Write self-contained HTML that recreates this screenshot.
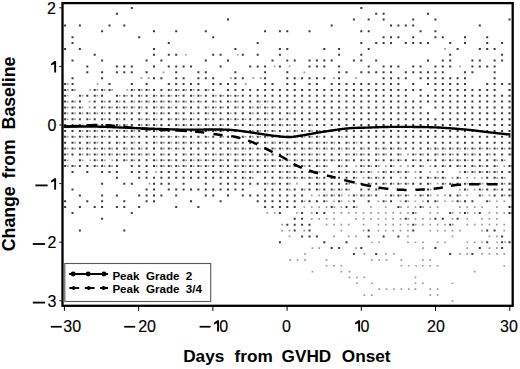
<!DOCTYPE html>
<html><head><meta charset="utf-8"><style>
html,body{margin:0;padding:0;background:#fff;width:520px;height:369px;overflow:hidden}
svg{display:block}
text{font-family:"Liberation Sans",sans-serif;fill:#000}
.t{font-size:16px;stroke:#000;stroke-width:0.15px}
.b{font-weight:bold;font-size:17.2px}
.by{font-weight:bold;font-size:17.7px}
.l{font-weight:bold;font-size:11.6px}
</style></head><body>
<svg width="520" height="369" viewBox="0 0 520 369">

<clipPath id="pc"><rect x="63.5" y="4" width="448.5" height="300.7"/></clipPath>
<path d="M88.7 100.8h1.7v1.7h-1.7zM88.7 106.6h1.7v1.7h-1.7zM89.4 89.1h1.7v1.7h-1.7zM89.4 159.4h1.7v1.7h-1.7zM96.8 83.2h1.7v1.7h-1.7zM111.6 159.4h1.7v1.7h-1.7zM126.5 89.1h1.7v1.7h-1.7zM140.5 77.3h1.7v1.7h-1.7zM147.9 77.3h1.7v1.7h-1.7zM148.7 182.8h1.7v1.7h-1.7zM155.3 171.1h1.7v1.7h-1.7zM162.7 71.5h1.7v1.7h-1.7zM185.0 53.9h1.7v1.7h-1.7zM230.1 77.3h1.7v1.7h-1.7zM236.8 53.9h1.7v1.7h-1.7zM245.0 83.2h1.7v1.7h-1.7zM252.4 77.3h1.7v1.7h-1.7zM259.8 77.3h1.7v1.7h-1.7zM266.4 212.1h1.7v1.7h-1.7zM273.8 65.6h1.7v1.7h-1.7zM273.8 212.1h1.7v1.7h-1.7zM281.2 223.8h1.7v1.7h-1.7zM281.2 229.7h1.7v1.7h-1.7zM288.7 65.6h1.7v1.7h-1.7zM288.7 229.7h1.7v1.7h-1.7zM288.7 235.6h1.7v1.7h-1.7zM289.4 259.0h1.7v1.7h-1.7zM296.1 182.8h1.7v1.7h-1.7zM296.1 212.1h1.7v1.7h-1.7zM296.8 259.0h1.7v1.7h-1.7zM303.5 71.5h1.7v1.7h-1.7zM303.5 206.3h1.7v1.7h-1.7zM303.5 229.7h1.7v1.7h-1.7zM304.2 253.1h1.7v1.7h-1.7zM304.2 259.0h1.7v1.7h-1.7zM310.9 194.5h1.7v1.7h-1.7zM310.9 206.3h1.7v1.7h-1.7zM310.9 212.1h1.7v1.7h-1.7zM310.9 218.0h1.7v1.7h-1.7zM311.6 247.3h1.7v1.7h-1.7zM311.6 270.7h1.7v1.7h-1.7zM318.3 194.5h1.7v1.7h-1.7zM318.3 206.3h1.7v1.7h-1.7zM318.3 218.0h1.7v1.7h-1.7zM318.3 247.3h1.7v1.7h-1.7zM325.7 206.3h1.7v1.7h-1.7zM325.7 218.0h1.7v1.7h-1.7zM325.7 223.8h1.7v1.7h-1.7zM325.7 259.0h1.7v1.7h-1.7zM325.7 264.9h1.7v1.7h-1.7zM333.1 77.3h1.7v1.7h-1.7zM333.1 200.4h1.7v1.7h-1.7zM333.1 212.1h1.7v1.7h-1.7zM333.1 218.0h1.7v1.7h-1.7zM333.1 223.8h1.7v1.7h-1.7zM333.1 235.6h1.7v1.7h-1.7zM333.1 264.9h1.7v1.7h-1.7zM340.5 206.3h1.7v1.7h-1.7zM340.5 212.1h1.7v1.7h-1.7zM340.5 223.8h1.7v1.7h-1.7zM340.5 229.7h1.7v1.7h-1.7zM340.5 264.9h1.7v1.7h-1.7zM340.5 270.7h1.7v1.7h-1.7zM347.9 194.5h1.7v1.7h-1.7zM347.9 200.4h1.7v1.7h-1.7zM347.9 212.1h1.7v1.7h-1.7zM347.9 223.8h1.7v1.7h-1.7zM347.9 235.6h1.7v1.7h-1.7zM348.6 270.7h1.7v1.7h-1.7zM348.6 276.6h1.7v1.7h-1.7zM355.3 77.3h1.7v1.7h-1.7zM355.3 165.2h1.7v1.7h-1.7zM355.3 182.8h1.7v1.7h-1.7zM355.3 212.1h1.7v1.7h-1.7zM355.3 218.0h1.7v1.7h-1.7zM355.3 235.6h1.7v1.7h-1.7zM355.3 247.3h1.7v1.7h-1.7zM356.0 276.6h1.7v1.7h-1.7zM356.0 282.4h1.7v1.7h-1.7zM362.7 177.0h1.7v1.7h-1.7zM362.7 212.1h1.7v1.7h-1.7zM362.7 218.0h1.7v1.7h-1.7zM362.7 223.8h1.7v1.7h-1.7zM362.7 229.7h1.7v1.7h-1.7zM363.5 253.1h1.7v1.7h-1.7zM363.5 276.6h1.7v1.7h-1.7zM363.5 294.2h1.7v1.7h-1.7zM370.1 206.3h1.7v1.7h-1.7zM370.1 212.1h1.7v1.7h-1.7zM370.1 218.0h1.7v1.7h-1.7zM370.9 241.4h1.7v1.7h-1.7zM370.9 259.0h1.7v1.7h-1.7zM370.9 282.4h1.7v1.7h-1.7zM370.9 294.2h1.7v1.7h-1.7zM377.5 171.1h1.7v1.7h-1.7zM377.5 200.4h1.7v1.7h-1.7zM377.5 212.1h1.7v1.7h-1.7zM377.5 218.0h1.7v1.7h-1.7zM377.5 223.8h1.7v1.7h-1.7zM377.5 229.7h1.7v1.7h-1.7zM378.3 241.4h1.7v1.7h-1.7zM378.3 259.0h1.7v1.7h-1.7zM378.3 288.3h1.7v1.7h-1.7zM384.9 165.2h1.7v1.7h-1.7zM384.9 194.5h1.7v1.7h-1.7zM384.9 206.3h1.7v1.7h-1.7zM384.9 212.1h1.7v1.7h-1.7zM384.9 218.0h1.7v1.7h-1.7zM384.9 223.8h1.7v1.7h-1.7zM384.9 229.7h1.7v1.7h-1.7zM384.9 253.1h1.7v1.7h-1.7zM385.7 259.0h1.7v1.7h-1.7zM385.7 288.3h1.7v1.7h-1.7zM392.3 212.1h1.7v1.7h-1.7zM392.3 218.0h1.7v1.7h-1.7zM392.3 223.8h1.7v1.7h-1.7zM392.3 229.7h1.7v1.7h-1.7zM393.1 253.1h1.7v1.7h-1.7zM393.1 288.3h1.7v1.7h-1.7zM399.7 165.2h1.7v1.7h-1.7zM399.7 177.0h1.7v1.7h-1.7zM399.7 200.4h1.7v1.7h-1.7zM399.7 212.1h1.7v1.7h-1.7zM399.7 218.0h1.7v1.7h-1.7zM399.7 223.8h1.7v1.7h-1.7zM399.7 229.7h1.7v1.7h-1.7zM400.5 259.0h1.7v1.7h-1.7zM400.5 264.9h1.7v1.7h-1.7zM400.5 288.3h1.7v1.7h-1.7zM407.1 153.5h1.7v1.7h-1.7zM407.1 165.2h1.7v1.7h-1.7zM407.1 206.3h1.7v1.7h-1.7zM407.1 212.1h1.7v1.7h-1.7zM407.1 223.8h1.7v1.7h-1.7zM407.1 229.7h1.7v1.7h-1.7zM407.1 235.6h1.7v1.7h-1.7zM407.1 241.4h1.7v1.7h-1.7zM407.1 241.4h1.7v1.7h-1.7zM407.9 264.9h1.7v1.7h-1.7zM407.9 288.3h1.7v1.7h-1.7zM414.6 171.1h1.7v1.7h-1.7zM414.6 177.0h1.7v1.7h-1.7zM414.6 194.5h1.7v1.7h-1.7zM414.6 200.4h1.7v1.7h-1.7zM414.6 206.3h1.7v1.7h-1.7zM414.6 218.0h1.7v1.7h-1.7zM414.6 241.4h1.7v1.7h-1.7zM414.6 241.4h1.7v1.7h-1.7zM414.6 276.6h1.7v1.7h-1.7zM414.6 282.4h1.7v1.7h-1.7zM414.6 288.3h1.7v1.7h-1.7zM415.3 264.9h1.7v1.7h-1.7zM422.0 200.4h1.7v1.7h-1.7zM422.0 218.0h1.7v1.7h-1.7zM422.0 223.8h1.7v1.7h-1.7zM422.0 241.4h1.7v1.7h-1.7zM422.0 241.4h1.7v1.7h-1.7zM422.0 247.3h1.7v1.7h-1.7zM422.0 259.0h1.7v1.7h-1.7zM422.0 264.9h1.7v1.7h-1.7zM422.0 282.4h1.7v1.7h-1.7zM429.4 165.2h1.7v1.7h-1.7zM429.4 171.1h1.7v1.7h-1.7zM429.4 206.3h1.7v1.7h-1.7zM429.4 212.1h1.7v1.7h-1.7zM429.4 218.0h1.7v1.7h-1.7zM429.4 223.8h1.7v1.7h-1.7zM429.4 229.7h1.7v1.7h-1.7zM429.4 259.0h1.7v1.7h-1.7zM429.4 264.9h1.7v1.7h-1.7zM429.4 288.3h1.7v1.7h-1.7zM429.4 294.2h1.7v1.7h-1.7zM436.8 171.1h1.7v1.7h-1.7zM436.8 182.8h1.7v1.7h-1.7zM436.8 194.5h1.7v1.7h-1.7zM436.8 206.3h1.7v1.7h-1.7zM436.8 212.1h1.7v1.7h-1.7zM436.8 223.8h1.7v1.7h-1.7zM436.8 229.7h1.7v1.7h-1.7zM436.8 241.4h1.7v1.7h-1.7zM436.8 241.4h1.7v1.7h-1.7zM436.8 264.9h1.7v1.7h-1.7zM436.8 288.3h1.7v1.7h-1.7zM436.8 294.2h1.7v1.7h-1.7zM444.2 48.0h1.7v1.7h-1.7zM444.2 194.5h1.7v1.7h-1.7zM444.2 200.4h1.7v1.7h-1.7zM444.2 223.8h1.7v1.7h-1.7zM444.2 229.7h1.7v1.7h-1.7zM444.2 241.4h1.7v1.7h-1.7zM444.2 241.4h1.7v1.7h-1.7zM451.6 177.0h1.7v1.7h-1.7zM451.6 200.4h1.7v1.7h-1.7zM451.6 218.0h1.7v1.7h-1.7zM451.6 229.7h1.7v1.7h-1.7zM451.6 235.6h1.7v1.7h-1.7zM451.6 282.4h1.7v1.7h-1.7zM451.6 300.0h1.7v1.7h-1.7zM459.0 65.6h1.7v1.7h-1.7zM459.0 171.1h1.7v1.7h-1.7zM459.0 188.7h1.7v1.7h-1.7zM459.0 206.3h1.7v1.7h-1.7zM459.0 212.1h1.7v1.7h-1.7zM459.0 229.7h1.7v1.7h-1.7zM459.0 253.1h1.7v1.7h-1.7zM466.4 177.0h1.7v1.7h-1.7zM466.4 194.5h1.7v1.7h-1.7zM466.4 206.3h1.7v1.7h-1.7zM466.4 218.0h1.7v1.7h-1.7zM466.4 223.8h1.7v1.7h-1.7zM466.4 241.4h1.7v1.7h-1.7zM466.4 241.4h1.7v1.7h-1.7zM466.4 247.3h1.7v1.7h-1.7zM466.4 253.1h1.7v1.7h-1.7zM473.8 177.0h1.7v1.7h-1.7zM473.8 188.7h1.7v1.7h-1.7zM473.8 206.3h1.7v1.7h-1.7zM473.8 212.1h1.7v1.7h-1.7zM473.8 223.8h1.7v1.7h-1.7zM473.8 241.4h1.7v1.7h-1.7zM473.8 241.4h1.7v1.7h-1.7zM473.8 270.7h1.7v1.7h-1.7zM481.2 177.0h1.7v1.7h-1.7zM481.2 206.3h1.7v1.7h-1.7zM481.2 218.0h1.7v1.7h-1.7zM481.2 223.8h1.7v1.7h-1.7zM481.2 229.7h1.7v1.7h-1.7zM481.2 241.4h1.7v1.7h-1.7zM481.2 241.4h1.7v1.7h-1.7zM481.2 253.1h1.7v1.7h-1.7zM488.6 194.5h1.7v1.7h-1.7zM488.6 212.1h1.7v1.7h-1.7zM488.6 218.0h1.7v1.7h-1.7zM488.6 223.8h1.7v1.7h-1.7zM488.6 235.6h1.7v1.7h-1.7zM488.6 247.3h1.7v1.7h-1.7zM488.6 253.1h1.7v1.7h-1.7zM496.0 200.4h1.7v1.7h-1.7zM496.0 206.3h1.7v1.7h-1.7zM496.0 212.1h1.7v1.7h-1.7zM496.0 218.0h1.7v1.7h-1.7zM496.0 223.8h1.7v1.7h-1.7zM496.0 235.6h1.7v1.7h-1.7zM496.0 241.4h1.7v1.7h-1.7zM496.0 247.3h1.7v1.7h-1.7zM496.0 253.1h1.7v1.7h-1.7zM503.4 165.2h1.7v1.7h-1.7zM503.4 200.4h1.7v1.7h-1.7zM503.4 212.1h1.7v1.7h-1.7zM503.4 223.8h1.7v1.7h-1.7zM503.4 229.7h1.7v1.7h-1.7zM503.4 253.1h1.7v1.7h-1.7zM503.4 264.9h1.7v1.7h-1.7zM504.2 241.4h1.7v1.7h-1.7zM66.8 83.2h1.7v1.7h-1.7zM66.8 89.1h1.7v1.7h-1.7zM66.8 94.9h1.7v1.7h-1.7zM66.8 100.8h1.7v1.7h-1.7zM66.8 106.6h1.7v1.7h-1.7zM66.8 112.5h1.7v1.7h-1.7zM66.8 118.4h1.7v1.7h-1.7zM66.8 135.9h1.7v1.7h-1.7zM66.8 147.7h1.7v1.7h-1.7zM66.8 153.5h1.7v1.7h-1.7zM66.8 159.4h1.7v1.7h-1.7zM66.8 165.2h1.7v1.7h-1.7zM74.2 89.1h1.7v1.7h-1.7zM74.2 100.8h1.7v1.7h-1.7zM74.2 106.6h1.7v1.7h-1.7zM74.2 112.5h1.7v1.7h-1.7zM74.2 118.4h1.7v1.7h-1.7zM74.2 124.2h1.7v1.7h-1.7zM74.2 135.9h1.7v1.7h-1.7zM74.2 141.8h1.7v1.7h-1.7zM74.2 147.7h1.7v1.7h-1.7zM74.2 165.2h1.7v1.7h-1.7zM81.7 94.9h1.7v1.7h-1.7zM81.7 106.6h1.7v1.7h-1.7zM81.7 112.5h1.7v1.7h-1.7zM81.7 124.2h1.7v1.7h-1.7zM81.7 130.1h1.7v1.7h-1.7zM81.7 135.9h1.7v1.7h-1.7zM81.7 147.7h1.7v1.7h-1.7zM81.7 153.5h1.7v1.7h-1.7zM81.7 159.4h1.7v1.7h-1.7zM89.1 112.5h1.7v1.7h-1.7zM89.1 118.4h1.7v1.7h-1.7zM89.1 124.2h1.7v1.7h-1.7zM89.1 130.1h1.7v1.7h-1.7zM89.1 135.9h1.7v1.7h-1.7zM89.1 141.8h1.7v1.7h-1.7zM89.1 147.7h1.7v1.7h-1.7zM89.1 153.5h1.7v1.7h-1.7zM96.5 89.1h1.7v1.7h-1.7zM96.5 94.9h1.7v1.7h-1.7zM96.5 112.5h1.7v1.7h-1.7zM96.5 124.2h1.7v1.7h-1.7zM96.5 130.1h1.7v1.7h-1.7zM96.5 135.9h1.7v1.7h-1.7zM96.5 141.8h1.7v1.7h-1.7zM96.5 147.7h1.7v1.7h-1.7zM96.5 153.5h1.7v1.7h-1.7zM96.5 159.4h1.7v1.7h-1.7zM96.5 165.2h1.7v1.7h-1.7zM103.9 89.1h1.7v1.7h-1.7zM103.9 100.8h1.7v1.7h-1.7zM103.9 106.6h1.7v1.7h-1.7zM103.9 112.5h1.7v1.7h-1.7zM103.9 118.4h1.7v1.7h-1.7zM103.9 130.1h1.7v1.7h-1.7zM103.9 135.9h1.7v1.7h-1.7zM103.9 147.7h1.7v1.7h-1.7zM103.9 153.5h1.7v1.7h-1.7zM103.9 159.4h1.7v1.7h-1.7zM103.9 165.2h1.7v1.7h-1.7zM111.3 89.1h1.7v1.7h-1.7zM111.3 106.6h1.7v1.7h-1.7zM111.3 130.1h1.7v1.7h-1.7zM111.3 147.7h1.7v1.7h-1.7zM111.3 153.5h1.7v1.7h-1.7zM111.3 165.2h1.7v1.7h-1.7zM118.7 94.9h1.7v1.7h-1.7zM118.7 100.8h1.7v1.7h-1.7zM118.7 106.6h1.7v1.7h-1.7zM118.7 112.5h1.7v1.7h-1.7zM118.7 118.4h1.7v1.7h-1.7zM118.7 124.2h1.7v1.7h-1.7zM118.7 130.1h1.7v1.7h-1.7zM118.7 141.8h1.7v1.7h-1.7zM118.7 153.5h1.7v1.7h-1.7zM126.1 94.9h1.7v1.7h-1.7zM126.1 106.6h1.7v1.7h-1.7zM126.1 112.5h1.7v1.7h-1.7zM126.1 124.2h1.7v1.7h-1.7zM126.1 130.1h1.7v1.7h-1.7zM126.1 135.9h1.7v1.7h-1.7zM126.1 147.7h1.7v1.7h-1.7zM126.1 153.5h1.7v1.7h-1.7zM126.1 159.4h1.7v1.7h-1.7zM133.5 89.1h1.7v1.7h-1.7zM133.5 100.8h1.7v1.7h-1.7zM133.5 106.6h1.7v1.7h-1.7zM133.5 130.1h1.7v1.7h-1.7zM133.5 135.9h1.7v1.7h-1.7zM133.5 141.8h1.7v1.7h-1.7zM133.5 147.7h1.7v1.7h-1.7zM133.5 153.5h1.7v1.7h-1.7zM133.5 159.4h1.7v1.7h-1.7zM140.9 89.1h1.7v1.7h-1.7zM140.9 94.9h1.7v1.7h-1.7zM140.9 100.8h1.7v1.7h-1.7zM140.9 106.6h1.7v1.7h-1.7zM140.9 118.4h1.7v1.7h-1.7zM140.9 124.2h1.7v1.7h-1.7zM140.9 147.7h1.7v1.7h-1.7zM140.9 153.5h1.7v1.7h-1.7zM148.3 89.1h1.7v1.7h-1.7zM148.3 100.8h1.7v1.7h-1.7zM148.3 118.4h1.7v1.7h-1.7zM148.3 124.2h1.7v1.7h-1.7zM148.3 153.5h1.7v1.7h-1.7zM155.7 94.9h1.7v1.7h-1.7zM155.7 100.8h1.7v1.7h-1.7zM155.7 106.6h1.7v1.7h-1.7zM155.7 112.5h1.7v1.7h-1.7zM155.7 118.4h1.7v1.7h-1.7zM155.7 124.2h1.7v1.7h-1.7zM155.7 130.1h1.7v1.7h-1.7zM155.7 135.9h1.7v1.7h-1.7zM155.7 141.8h1.7v1.7h-1.7zM155.7 159.4h1.7v1.7h-1.7zM155.7 165.2h1.7v1.7h-1.7zM163.1 94.9h1.7v1.7h-1.7zM163.1 100.8h1.7v1.7h-1.7zM163.1 106.6h1.7v1.7h-1.7zM163.1 112.5h1.7v1.7h-1.7zM163.1 130.1h1.7v1.7h-1.7zM163.1 135.9h1.7v1.7h-1.7zM163.1 141.8h1.7v1.7h-1.7zM163.1 147.7h1.7v1.7h-1.7zM163.1 153.5h1.7v1.7h-1.7zM163.1 159.4h1.7v1.7h-1.7zM163.1 165.2h1.7v1.7h-1.7zM170.5 89.1h1.7v1.7h-1.7zM170.5 94.9h1.7v1.7h-1.7zM170.5 100.8h1.7v1.7h-1.7zM170.5 106.6h1.7v1.7h-1.7zM170.5 118.4h1.7v1.7h-1.7zM170.5 135.9h1.7v1.7h-1.7zM170.5 141.8h1.7v1.7h-1.7zM170.5 147.7h1.7v1.7h-1.7zM170.5 159.4h1.7v1.7h-1.7zM170.5 165.2h1.7v1.7h-1.7zM177.9 89.1h1.7v1.7h-1.7zM177.9 94.9h1.7v1.7h-1.7zM177.9 100.8h1.7v1.7h-1.7zM177.9 112.5h1.7v1.7h-1.7zM177.9 118.4h1.7v1.7h-1.7zM177.9 124.2h1.7v1.7h-1.7zM177.9 130.1h1.7v1.7h-1.7zM177.9 135.9h1.7v1.7h-1.7zM177.9 141.8h1.7v1.7h-1.7zM177.9 147.7h1.7v1.7h-1.7zM177.9 165.2h1.7v1.7h-1.7zM185.3 89.1h1.7v1.7h-1.7zM185.3 100.8h1.7v1.7h-1.7zM185.3 106.6h1.7v1.7h-1.7zM185.3 118.4h1.7v1.7h-1.7zM185.3 124.2h1.7v1.7h-1.7zM185.3 130.1h1.7v1.7h-1.7zM185.3 135.9h1.7v1.7h-1.7zM185.3 141.8h1.7v1.7h-1.7zM185.3 153.5h1.7v1.7h-1.7zM185.3 159.4h1.7v1.7h-1.7zM185.3 165.2h1.7v1.7h-1.7zM192.7 89.1h1.7v1.7h-1.7zM192.7 94.9h1.7v1.7h-1.7zM192.7 100.8h1.7v1.7h-1.7zM192.7 112.5h1.7v1.7h-1.7zM192.7 118.4h1.7v1.7h-1.7zM192.7 124.2h1.7v1.7h-1.7zM192.7 130.1h1.7v1.7h-1.7zM192.7 141.8h1.7v1.7h-1.7zM192.7 153.5h1.7v1.7h-1.7zM192.7 159.4h1.7v1.7h-1.7zM192.7 165.2h1.7v1.7h-1.7zM200.2 94.9h1.7v1.7h-1.7zM200.2 100.8h1.7v1.7h-1.7zM200.2 124.2h1.7v1.7h-1.7zM200.2 141.8h1.7v1.7h-1.7zM200.2 159.4h1.7v1.7h-1.7zM200.2 165.2h1.7v1.7h-1.7zM207.6 89.1h1.7v1.7h-1.7zM207.6 106.6h1.7v1.7h-1.7zM207.6 112.5h1.7v1.7h-1.7zM207.6 118.4h1.7v1.7h-1.7zM207.6 124.2h1.7v1.7h-1.7zM207.6 130.1h1.7v1.7h-1.7zM207.6 135.9h1.7v1.7h-1.7zM207.6 141.8h1.7v1.7h-1.7zM207.6 153.5h1.7v1.7h-1.7zM207.6 159.4h1.7v1.7h-1.7zM207.6 165.2h1.7v1.7h-1.7zM215.0 94.9h1.7v1.7h-1.7zM215.0 100.8h1.7v1.7h-1.7zM215.0 106.6h1.7v1.7h-1.7zM215.0 112.5h1.7v1.7h-1.7zM215.0 124.2h1.7v1.7h-1.7zM215.0 130.1h1.7v1.7h-1.7zM215.0 153.5h1.7v1.7h-1.7zM215.0 159.4h1.7v1.7h-1.7zM215.0 171.1h1.7v1.7h-1.7zM222.4 94.9h1.7v1.7h-1.7zM222.4 106.6h1.7v1.7h-1.7zM222.4 118.4h1.7v1.7h-1.7zM222.4 124.2h1.7v1.7h-1.7zM222.4 130.1h1.7v1.7h-1.7zM222.4 135.9h1.7v1.7h-1.7zM222.4 141.8h1.7v1.7h-1.7zM222.4 153.5h1.7v1.7h-1.7zM222.4 159.4h1.7v1.7h-1.7zM222.4 165.2h1.7v1.7h-1.7zM222.4 171.1h1.7v1.7h-1.7zM229.8 94.9h1.7v1.7h-1.7zM229.8 100.8h1.7v1.7h-1.7zM229.8 112.5h1.7v1.7h-1.7zM229.8 118.4h1.7v1.7h-1.7zM229.8 141.8h1.7v1.7h-1.7zM229.8 147.7h1.7v1.7h-1.7zM229.8 153.5h1.7v1.7h-1.7zM229.8 171.1h1.7v1.7h-1.7zM237.2 94.9h1.7v1.7h-1.7zM237.2 100.8h1.7v1.7h-1.7zM237.2 106.6h1.7v1.7h-1.7zM237.2 118.4h1.7v1.7h-1.7zM237.2 124.2h1.7v1.7h-1.7zM237.2 130.1h1.7v1.7h-1.7zM237.2 135.9h1.7v1.7h-1.7zM237.2 141.8h1.7v1.7h-1.7zM237.2 147.7h1.7v1.7h-1.7zM237.2 153.5h1.7v1.7h-1.7zM237.2 159.4h1.7v1.7h-1.7zM237.2 165.2h1.7v1.7h-1.7zM244.6 118.4h1.7v1.7h-1.7zM244.6 130.1h1.7v1.7h-1.7zM244.6 135.9h1.7v1.7h-1.7zM244.6 147.7h1.7v1.7h-1.7zM244.6 153.5h1.7v1.7h-1.7zM244.6 159.4h1.7v1.7h-1.7zM244.6 165.2h1.7v1.7h-1.7zM244.6 171.1h1.7v1.7h-1.7zM244.6 177.0h1.7v1.7h-1.7zM252.0 106.6h1.7v1.7h-1.7zM252.0 112.5h1.7v1.7h-1.7zM252.0 124.2h1.7v1.7h-1.7zM252.0 130.1h1.7v1.7h-1.7zM252.0 135.9h1.7v1.7h-1.7zM252.0 147.7h1.7v1.7h-1.7zM252.0 159.4h1.7v1.7h-1.7zM252.0 165.2h1.7v1.7h-1.7zM252.0 171.1h1.7v1.7h-1.7zM252.0 177.0h1.7v1.7h-1.7zM259.4 100.8h1.7v1.7h-1.7zM259.4 106.6h1.7v1.7h-1.7zM259.4 118.4h1.7v1.7h-1.7zM259.4 124.2h1.7v1.7h-1.7zM259.4 130.1h1.7v1.7h-1.7zM259.4 135.9h1.7v1.7h-1.7zM259.4 147.7h1.7v1.7h-1.7zM259.4 159.4h1.7v1.7h-1.7zM259.4 171.1h1.7v1.7h-1.7zM266.8 100.8h1.7v1.7h-1.7zM266.8 106.6h1.7v1.7h-1.7zM266.8 112.5h1.7v1.7h-1.7zM266.8 118.4h1.7v1.7h-1.7zM266.8 124.2h1.7v1.7h-1.7zM266.8 130.1h1.7v1.7h-1.7zM266.8 135.9h1.7v1.7h-1.7zM266.8 141.8h1.7v1.7h-1.7zM266.8 147.7h1.7v1.7h-1.7zM266.8 153.5h1.7v1.7h-1.7zM266.8 159.4h1.7v1.7h-1.7zM266.8 165.2h1.7v1.7h-1.7zM266.8 171.1h1.7v1.7h-1.7zM266.8 182.8h1.7v1.7h-1.7zM274.2 106.6h1.7v1.7h-1.7zM274.2 124.2h1.7v1.7h-1.7zM274.2 130.1h1.7v1.7h-1.7zM274.2 135.9h1.7v1.7h-1.7zM274.2 141.8h1.7v1.7h-1.7zM274.2 147.7h1.7v1.7h-1.7zM274.2 159.4h1.7v1.7h-1.7zM274.2 165.2h1.7v1.7h-1.7zM274.2 182.8h1.7v1.7h-1.7zM281.6 118.4h1.7v1.7h-1.7zM281.6 124.2h1.7v1.7h-1.7zM281.6 141.8h1.7v1.7h-1.7zM281.6 147.7h1.7v1.7h-1.7zM281.6 159.4h1.7v1.7h-1.7zM281.6 165.2h1.7v1.7h-1.7zM281.6 171.1h1.7v1.7h-1.7zM281.6 177.0h1.7v1.7h-1.7zM289.0 112.5h1.7v1.7h-1.7zM289.0 124.2h1.7v1.7h-1.7zM289.0 130.1h1.7v1.7h-1.7zM289.0 147.7h1.7v1.7h-1.7zM289.0 153.5h1.7v1.7h-1.7zM289.0 159.4h1.7v1.7h-1.7zM289.0 165.2h1.7v1.7h-1.7zM289.0 171.1h1.7v1.7h-1.7zM289.0 177.0h1.7v1.7h-1.7zM289.0 182.8h1.7v1.7h-1.7zM289.0 188.7h1.7v1.7h-1.7zM296.4 124.2h1.7v1.7h-1.7zM296.4 130.1h1.7v1.7h-1.7zM296.4 135.9h1.7v1.7h-1.7zM296.4 141.8h1.7v1.7h-1.7zM296.4 153.5h1.7v1.7h-1.7zM296.4 159.4h1.7v1.7h-1.7zM296.4 165.2h1.7v1.7h-1.7zM296.4 177.0h1.7v1.7h-1.7zM303.8 130.1h1.7v1.7h-1.7zM303.8 135.9h1.7v1.7h-1.7zM303.8 147.7h1.7v1.7h-1.7zM303.8 153.5h1.7v1.7h-1.7zM303.8 159.4h1.7v1.7h-1.7zM303.8 165.2h1.7v1.7h-1.7zM303.8 177.0h1.7v1.7h-1.7zM303.8 188.7h1.7v1.7h-1.7zM303.8 200.4h1.7v1.7h-1.7zM311.2 124.2h1.7v1.7h-1.7zM311.2 130.1h1.7v1.7h-1.7zM311.2 135.9h1.7v1.7h-1.7zM311.2 141.8h1.7v1.7h-1.7zM311.2 147.7h1.7v1.7h-1.7zM311.2 153.5h1.7v1.7h-1.7zM311.2 159.4h1.7v1.7h-1.7zM311.2 171.1h1.7v1.7h-1.7zM311.2 177.0h1.7v1.7h-1.7zM318.6 130.1h1.7v1.7h-1.7zM318.6 135.9h1.7v1.7h-1.7zM318.6 141.8h1.7v1.7h-1.7zM318.6 147.7h1.7v1.7h-1.7zM318.6 153.5h1.7v1.7h-1.7zM318.6 159.4h1.7v1.7h-1.7zM318.6 165.2h1.7v1.7h-1.7zM318.6 171.1h1.7v1.7h-1.7zM318.6 177.0h1.7v1.7h-1.7zM318.6 182.8h1.7v1.7h-1.7zM318.6 188.7h1.7v1.7h-1.7zM326.1 130.1h1.7v1.7h-1.7zM326.1 141.8h1.7v1.7h-1.7zM326.1 147.7h1.7v1.7h-1.7zM326.1 159.4h1.7v1.7h-1.7zM326.1 165.2h1.7v1.7h-1.7zM326.1 194.5h1.7v1.7h-1.7zM326.1 200.4h1.7v1.7h-1.7zM333.5 141.8h1.7v1.7h-1.7zM333.5 147.7h1.7v1.7h-1.7zM333.5 159.4h1.7v1.7h-1.7zM333.5 171.1h1.7v1.7h-1.7zM333.5 177.0h1.7v1.7h-1.7zM333.5 188.7h1.7v1.7h-1.7zM333.5 194.5h1.7v1.7h-1.7zM333.5 206.3h1.7v1.7h-1.7zM340.9 135.9h1.7v1.7h-1.7zM340.9 147.7h1.7v1.7h-1.7zM340.9 159.4h1.7v1.7h-1.7zM340.9 165.2h1.7v1.7h-1.7zM340.9 171.1h1.7v1.7h-1.7zM340.9 188.7h1.7v1.7h-1.7zM340.9 194.5h1.7v1.7h-1.7zM340.9 200.4h1.7v1.7h-1.7zM348.3 141.8h1.7v1.7h-1.7zM348.3 147.7h1.7v1.7h-1.7zM348.3 153.5h1.7v1.7h-1.7zM348.3 159.4h1.7v1.7h-1.7zM348.3 171.1h1.7v1.7h-1.7zM348.3 182.8h1.7v1.7h-1.7zM348.3 188.7h1.7v1.7h-1.7zM355.7 141.8h1.7v1.7h-1.7zM355.7 153.5h1.7v1.7h-1.7zM355.7 171.1h1.7v1.7h-1.7zM355.7 177.0h1.7v1.7h-1.7zM355.7 194.5h1.7v1.7h-1.7zM355.7 206.3h1.7v1.7h-1.7zM363.1 147.7h1.7v1.7h-1.7zM363.1 153.5h1.7v1.7h-1.7zM363.1 159.4h1.7v1.7h-1.7zM363.1 165.2h1.7v1.7h-1.7zM363.1 171.1h1.7v1.7h-1.7zM363.1 194.5h1.7v1.7h-1.7zM370.5 165.2h1.7v1.7h-1.7zM370.5 171.1h1.7v1.7h-1.7zM370.5 177.0h1.7v1.7h-1.7zM370.5 182.8h1.7v1.7h-1.7zM370.5 194.5h1.7v1.7h-1.7zM377.9 147.7h1.7v1.7h-1.7zM377.9 153.5h1.7v1.7h-1.7zM377.9 159.4h1.7v1.7h-1.7zM377.9 165.2h1.7v1.7h-1.7zM377.9 177.0h1.7v1.7h-1.7zM377.9 188.7h1.7v1.7h-1.7zM385.3 147.7h1.7v1.7h-1.7zM385.3 153.5h1.7v1.7h-1.7zM385.3 171.1h1.7v1.7h-1.7zM385.3 182.8h1.7v1.7h-1.7zM385.3 200.4h1.7v1.7h-1.7zM392.7 147.7h1.7v1.7h-1.7zM392.7 159.4h1.7v1.7h-1.7zM392.7 165.2h1.7v1.7h-1.7zM392.7 171.1h1.7v1.7h-1.7zM392.7 182.8h1.7v1.7h-1.7zM392.7 194.5h1.7v1.7h-1.7zM400.1 147.7h1.7v1.7h-1.7zM400.1 153.5h1.7v1.7h-1.7zM400.1 159.4h1.7v1.7h-1.7zM400.1 171.1h1.7v1.7h-1.7zM400.1 182.8h1.7v1.7h-1.7zM400.1 194.5h1.7v1.7h-1.7zM400.1 206.3h1.7v1.7h-1.7zM407.5 171.1h1.7v1.7h-1.7zM407.5 182.8h1.7v1.7h-1.7zM407.5 194.5h1.7v1.7h-1.7zM407.5 200.4h1.7v1.7h-1.7zM407.5 218.0h1.7v1.7h-1.7zM414.9 153.5h1.7v1.7h-1.7zM414.9 159.4h1.7v1.7h-1.7zM414.9 212.1h1.7v1.7h-1.7zM414.9 223.8h1.7v1.7h-1.7zM422.3 153.5h1.7v1.7h-1.7zM422.3 165.2h1.7v1.7h-1.7zM422.3 194.5h1.7v1.7h-1.7zM422.3 206.3h1.7v1.7h-1.7zM429.7 147.7h1.7v1.7h-1.7zM429.7 159.4h1.7v1.7h-1.7zM429.7 177.0h1.7v1.7h-1.7zM429.7 182.8h1.7v1.7h-1.7zM429.7 188.7h1.7v1.7h-1.7zM429.7 194.5h1.7v1.7h-1.7zM437.1 147.7h1.7v1.7h-1.7zM437.1 153.5h1.7v1.7h-1.7zM437.1 177.0h1.7v1.7h-1.7zM437.1 200.4h1.7v1.7h-1.7zM444.5 147.7h1.7v1.7h-1.7zM444.5 153.5h1.7v1.7h-1.7zM444.5 159.4h1.7v1.7h-1.7zM444.5 165.2h1.7v1.7h-1.7zM444.5 177.0h1.7v1.7h-1.7zM444.5 182.8h1.7v1.7h-1.7zM452.0 147.7h1.7v1.7h-1.7zM452.0 153.5h1.7v1.7h-1.7zM452.0 159.4h1.7v1.7h-1.7zM452.0 182.8h1.7v1.7h-1.7zM452.0 212.1h1.7v1.7h-1.7zM452.0 223.8h1.7v1.7h-1.7zM459.4 147.7h1.7v1.7h-1.7zM459.4 159.4h1.7v1.7h-1.7zM459.4 165.2h1.7v1.7h-1.7zM459.4 177.0h1.7v1.7h-1.7zM459.4 194.5h1.7v1.7h-1.7zM459.4 200.4h1.7v1.7h-1.7zM466.8 147.7h1.7v1.7h-1.7zM466.8 153.5h1.7v1.7h-1.7zM466.8 159.4h1.7v1.7h-1.7zM466.8 171.1h1.7v1.7h-1.7zM466.8 182.8h1.7v1.7h-1.7zM466.8 188.7h1.7v1.7h-1.7zM466.8 212.1h1.7v1.7h-1.7zM474.2 147.7h1.7v1.7h-1.7zM474.2 153.5h1.7v1.7h-1.7zM474.2 165.2h1.7v1.7h-1.7zM474.2 171.1h1.7v1.7h-1.7zM474.2 182.8h1.7v1.7h-1.7zM481.6 147.7h1.7v1.7h-1.7zM481.6 165.2h1.7v1.7h-1.7zM481.6 171.1h1.7v1.7h-1.7zM481.6 182.8h1.7v1.7h-1.7zM481.6 188.7h1.7v1.7h-1.7zM481.6 194.5h1.7v1.7h-1.7zM489.0 147.7h1.7v1.7h-1.7zM489.0 153.5h1.7v1.7h-1.7zM489.0 171.1h1.7v1.7h-1.7zM489.0 182.8h1.7v1.7h-1.7zM489.0 200.4h1.7v1.7h-1.7zM496.4 147.7h1.7v1.7h-1.7zM496.4 159.4h1.7v1.7h-1.7zM496.4 165.2h1.7v1.7h-1.7zM496.4 171.1h1.7v1.7h-1.7zM496.4 177.0h1.7v1.7h-1.7zM496.4 182.8h1.7v1.7h-1.7zM496.4 188.7h1.7v1.7h-1.7zM503.8 147.7h1.7v1.7h-1.7zM503.8 159.4h1.7v1.7h-1.7zM503.8 177.0h1.7v1.7h-1.7zM503.8 182.8h1.7v1.7h-1.7zM503.8 194.5h1.7v1.7h-1.7zM511.2 147.7h1.7v1.7h-1.7zM511.2 153.5h1.7v1.7h-1.7zM511.2 165.2h1.7v1.7h-1.7zM511.2 182.8h1.7v1.7h-1.7zM511.2 188.7h1.7v1.7h-1.7zM511.2 194.5h1.7v1.7h-1.7zM511.2 206.3h1.7v1.7h-1.7zM511.2 212.1h1.7v1.7h-1.7z" fill="#9a9a9a" clip-path="url(#pc)"/>
<path d="M64.1 24.4h2.0v2.0h-2.0zM64.1 47.9h2.0v2.0h-2.0zM64.1 83.0h2.0v2.0h-2.0zM64.1 88.9h2.0v2.0h-2.0zM64.1 94.8h2.0v2.0h-2.0zM64.1 100.6h2.0v2.0h-2.0zM64.1 106.5h2.0v2.0h-2.0zM64.1 112.3h2.0v2.0h-2.0zM64.1 118.2h2.0v2.0h-2.0zM64.1 124.1h2.0v2.0h-2.0zM64.1 129.9h2.0v2.0h-2.0zM64.1 135.8h2.0v2.0h-2.0zM64.1 141.7h2.0v2.0h-2.0zM64.1 147.5h2.0v2.0h-2.0zM64.1 153.4h2.0v2.0h-2.0zM64.1 159.2h2.0v2.0h-2.0zM64.1 165.1h2.0v2.0h-2.0zM64.1 200.3h2.0v2.0h-2.0zM64.1 206.1h2.0v2.0h-2.0zM71.5 36.2h2.0v2.0h-2.0zM71.5 42.0h2.0v2.0h-2.0zM71.5 59.6h2.0v2.0h-2.0zM71.5 77.2h2.0v2.0h-2.0zM71.5 83.0h2.0v2.0h-2.0zM71.5 88.9h2.0v2.0h-2.0zM71.5 100.6h2.0v2.0h-2.0zM71.5 106.5h2.0v2.0h-2.0zM71.5 112.3h2.0v2.0h-2.0zM71.5 118.2h2.0v2.0h-2.0zM71.5 124.1h2.0v2.0h-2.0zM71.5 129.9h2.0v2.0h-2.0zM71.5 135.8h2.0v2.0h-2.0zM71.5 141.7h2.0v2.0h-2.0zM71.5 147.5h2.0v2.0h-2.0zM71.5 153.4h2.0v2.0h-2.0zM71.5 165.1h2.0v2.0h-2.0zM71.5 171.0h2.0v2.0h-2.0zM71.5 188.5h2.0v2.0h-2.0zM71.5 212.0h2.0v2.0h-2.0zM78.9 24.4h2.0v2.0h-2.0zM78.9 47.9h2.0v2.0h-2.0zM78.9 94.8h2.0v2.0h-2.0zM78.9 100.6h2.0v2.0h-2.0zM78.9 106.5h2.0v2.0h-2.0zM78.9 112.3h2.0v2.0h-2.0zM78.9 118.2h2.0v2.0h-2.0zM78.9 124.1h2.0v2.0h-2.0zM78.9 129.9h2.0v2.0h-2.0zM78.9 135.8h2.0v2.0h-2.0zM78.9 141.7h2.0v2.0h-2.0zM78.9 147.5h2.0v2.0h-2.0zM78.9 153.4h2.0v2.0h-2.0zM78.9 159.2h2.0v2.0h-2.0zM78.9 165.1h2.0v2.0h-2.0zM78.9 194.4h2.0v2.0h-2.0zM78.9 206.1h2.0v2.0h-2.0zM78.9 229.6h2.0v2.0h-2.0zM86.3 65.5h2.0v2.0h-2.0zM86.3 71.3h2.0v2.0h-2.0zM86.3 94.8h2.0v2.0h-2.0zM86.3 112.3h2.0v2.0h-2.0zM86.3 118.2h2.0v2.0h-2.0zM86.3 124.1h2.0v2.0h-2.0zM86.3 129.9h2.0v2.0h-2.0zM86.3 135.8h2.0v2.0h-2.0zM86.3 141.7h2.0v2.0h-2.0zM86.3 147.5h2.0v2.0h-2.0zM86.3 153.4h2.0v2.0h-2.0zM86.3 165.1h2.0v2.0h-2.0zM86.3 171.0h2.0v2.0h-2.0zM86.3 200.3h2.0v2.0h-2.0zM93.7 53.8h2.0v2.0h-2.0zM93.7 88.9h2.0v2.0h-2.0zM93.7 94.8h2.0v2.0h-2.0zM93.7 100.6h2.0v2.0h-2.0zM93.7 106.5h2.0v2.0h-2.0zM93.7 112.3h2.0v2.0h-2.0zM93.7 118.2h2.0v2.0h-2.0zM93.7 124.1h2.0v2.0h-2.0zM93.7 129.9h2.0v2.0h-2.0zM93.7 135.8h2.0v2.0h-2.0zM93.7 141.7h2.0v2.0h-2.0zM93.7 147.5h2.0v2.0h-2.0zM93.7 153.4h2.0v2.0h-2.0zM93.7 159.2h2.0v2.0h-2.0zM93.7 165.1h2.0v2.0h-2.0zM93.7 206.1h2.0v2.0h-2.0zM101.1 30.3h2.0v2.0h-2.0zM101.1 59.6h2.0v2.0h-2.0zM101.1 71.3h2.0v2.0h-2.0zM101.1 77.2h2.0v2.0h-2.0zM101.1 88.9h2.0v2.0h-2.0zM101.1 94.8h2.0v2.0h-2.0zM101.1 100.6h2.0v2.0h-2.0zM101.1 106.5h2.0v2.0h-2.0zM101.1 112.3h2.0v2.0h-2.0zM101.1 118.2h2.0v2.0h-2.0zM101.1 124.1h2.0v2.0h-2.0zM101.1 129.9h2.0v2.0h-2.0zM101.1 135.8h2.0v2.0h-2.0zM101.1 141.7h2.0v2.0h-2.0zM101.1 147.5h2.0v2.0h-2.0zM101.1 153.4h2.0v2.0h-2.0zM101.1 159.2h2.0v2.0h-2.0zM101.1 165.1h2.0v2.0h-2.0zM101.1 171.0h2.0v2.0h-2.0zM101.1 182.7h2.0v2.0h-2.0zM101.1 194.4h2.0v2.0h-2.0zM101.1 200.3h2.0v2.0h-2.0zM101.1 206.1h2.0v2.0h-2.0zM101.1 217.8h2.0v2.0h-2.0zM108.5 24.4h2.0v2.0h-2.0zM108.5 83.0h2.0v2.0h-2.0zM108.5 88.9h2.0v2.0h-2.0zM108.5 100.6h2.0v2.0h-2.0zM108.5 106.5h2.0v2.0h-2.0zM108.5 112.3h2.0v2.0h-2.0zM108.5 118.2h2.0v2.0h-2.0zM108.5 124.1h2.0v2.0h-2.0zM108.5 129.9h2.0v2.0h-2.0zM108.5 135.8h2.0v2.0h-2.0zM108.5 141.7h2.0v2.0h-2.0zM108.5 147.5h2.0v2.0h-2.0zM108.5 153.4h2.0v2.0h-2.0zM108.5 165.1h2.0v2.0h-2.0zM108.5 171.0h2.0v2.0h-2.0zM115.9 12.7h2.0v2.0h-2.0zM115.9 65.5h2.0v2.0h-2.0zM115.9 71.3h2.0v2.0h-2.0zM115.9 94.8h2.0v2.0h-2.0zM115.9 100.6h2.0v2.0h-2.0zM115.9 106.5h2.0v2.0h-2.0zM115.9 112.3h2.0v2.0h-2.0zM115.9 118.2h2.0v2.0h-2.0zM115.9 124.1h2.0v2.0h-2.0zM115.9 129.9h2.0v2.0h-2.0zM115.9 135.8h2.0v2.0h-2.0zM115.9 141.7h2.0v2.0h-2.0zM115.9 147.5h2.0v2.0h-2.0zM115.9 153.4h2.0v2.0h-2.0zM115.9 159.2h2.0v2.0h-2.0zM115.9 165.1h2.0v2.0h-2.0zM115.9 171.0h2.0v2.0h-2.0zM115.9 176.8h2.0v2.0h-2.0zM115.9 194.4h2.0v2.0h-2.0zM115.9 206.1h2.0v2.0h-2.0zM123.3 24.4h2.0v2.0h-2.0zM123.3 65.5h2.0v2.0h-2.0zM123.3 71.3h2.0v2.0h-2.0zM123.3 94.8h2.0v2.0h-2.0zM123.3 100.6h2.0v2.0h-2.0zM123.3 106.5h2.0v2.0h-2.0zM123.3 112.3h2.0v2.0h-2.0zM123.3 118.2h2.0v2.0h-2.0zM123.3 124.1h2.0v2.0h-2.0zM123.3 129.9h2.0v2.0h-2.0zM123.3 135.8h2.0v2.0h-2.0zM123.3 141.7h2.0v2.0h-2.0zM123.3 147.5h2.0v2.0h-2.0zM123.3 153.4h2.0v2.0h-2.0zM123.3 159.2h2.0v2.0h-2.0zM123.3 182.7h2.0v2.0h-2.0zM123.3 200.3h2.0v2.0h-2.0zM123.3 206.1h2.0v2.0h-2.0zM123.3 229.6h2.0v2.0h-2.0zM130.8 6.9h2.0v2.0h-2.0zM130.8 65.5h2.0v2.0h-2.0zM130.8 71.3h2.0v2.0h-2.0zM130.8 83.0h2.0v2.0h-2.0zM130.8 88.9h2.0v2.0h-2.0zM130.8 94.8h2.0v2.0h-2.0zM130.8 100.6h2.0v2.0h-2.0zM130.8 106.5h2.0v2.0h-2.0zM130.8 112.3h2.0v2.0h-2.0zM130.8 118.2h2.0v2.0h-2.0zM130.8 124.1h2.0v2.0h-2.0zM130.8 129.9h2.0v2.0h-2.0zM130.8 135.8h2.0v2.0h-2.0zM130.8 141.7h2.0v2.0h-2.0zM130.8 147.5h2.0v2.0h-2.0zM130.8 153.4h2.0v2.0h-2.0zM130.8 159.2h2.0v2.0h-2.0zM130.8 165.1h2.0v2.0h-2.0zM130.8 171.0h2.0v2.0h-2.0zM130.8 182.7h2.0v2.0h-2.0zM130.8 212.0h2.0v2.0h-2.0zM138.2 36.2h2.0v2.0h-2.0zM138.2 88.9h2.0v2.0h-2.0zM138.2 94.8h2.0v2.0h-2.0zM138.2 100.6h2.0v2.0h-2.0zM138.2 106.5h2.0v2.0h-2.0zM138.2 112.3h2.0v2.0h-2.0zM138.2 118.2h2.0v2.0h-2.0zM138.2 124.1h2.0v2.0h-2.0zM138.2 129.9h2.0v2.0h-2.0zM138.2 135.8h2.0v2.0h-2.0zM138.2 141.7h2.0v2.0h-2.0zM138.2 147.5h2.0v2.0h-2.0zM138.2 153.4h2.0v2.0h-2.0zM138.2 159.2h2.0v2.0h-2.0zM138.2 165.1h2.0v2.0h-2.0zM138.2 171.0h2.0v2.0h-2.0zM138.2 176.8h2.0v2.0h-2.0zM138.2 194.4h2.0v2.0h-2.0zM138.2 206.1h2.0v2.0h-2.0zM145.6 59.6h2.0v2.0h-2.0zM145.6 71.3h2.0v2.0h-2.0zM145.6 83.0h2.0v2.0h-2.0zM145.6 88.9h2.0v2.0h-2.0zM145.6 94.8h2.0v2.0h-2.0zM145.6 100.6h2.0v2.0h-2.0zM145.6 106.5h2.0v2.0h-2.0zM145.6 112.3h2.0v2.0h-2.0zM145.6 118.2h2.0v2.0h-2.0zM145.6 124.1h2.0v2.0h-2.0zM145.6 129.9h2.0v2.0h-2.0zM145.6 135.8h2.0v2.0h-2.0zM145.6 141.7h2.0v2.0h-2.0zM145.6 147.5h2.0v2.0h-2.0zM145.6 153.4h2.0v2.0h-2.0zM145.6 159.2h2.0v2.0h-2.0zM145.6 165.1h2.0v2.0h-2.0zM145.6 171.0h2.0v2.0h-2.0zM145.6 176.8h2.0v2.0h-2.0zM145.6 188.5h2.0v2.0h-2.0zM145.6 194.4h2.0v2.0h-2.0zM145.6 200.3h2.0v2.0h-2.0zM153.0 30.3h2.0v2.0h-2.0zM153.0 47.9h2.0v2.0h-2.0zM153.0 53.8h2.0v2.0h-2.0zM153.0 65.5h2.0v2.0h-2.0zM153.0 77.2h2.0v2.0h-2.0zM153.0 88.9h2.0v2.0h-2.0zM153.0 94.8h2.0v2.0h-2.0zM153.0 100.6h2.0v2.0h-2.0zM153.0 106.5h2.0v2.0h-2.0zM153.0 112.3h2.0v2.0h-2.0zM153.0 118.2h2.0v2.0h-2.0zM153.0 124.1h2.0v2.0h-2.0zM153.0 129.9h2.0v2.0h-2.0zM153.0 135.8h2.0v2.0h-2.0zM153.0 141.7h2.0v2.0h-2.0zM153.0 147.5h2.0v2.0h-2.0zM153.0 153.4h2.0v2.0h-2.0zM153.0 159.2h2.0v2.0h-2.0zM153.0 165.1h2.0v2.0h-2.0zM153.0 176.8h2.0v2.0h-2.0zM153.0 182.7h2.0v2.0h-2.0zM153.0 188.5h2.0v2.0h-2.0zM153.0 194.4h2.0v2.0h-2.0zM153.0 200.3h2.0v2.0h-2.0zM160.4 59.6h2.0v2.0h-2.0zM160.4 77.2h2.0v2.0h-2.0zM160.4 88.9h2.0v2.0h-2.0zM160.4 94.8h2.0v2.0h-2.0zM160.4 100.6h2.0v2.0h-2.0zM160.4 106.5h2.0v2.0h-2.0zM160.4 112.3h2.0v2.0h-2.0zM160.4 118.2h2.0v2.0h-2.0zM160.4 124.1h2.0v2.0h-2.0zM160.4 129.9h2.0v2.0h-2.0zM160.4 135.8h2.0v2.0h-2.0zM160.4 141.7h2.0v2.0h-2.0zM160.4 147.5h2.0v2.0h-2.0zM160.4 153.4h2.0v2.0h-2.0zM160.4 159.2h2.0v2.0h-2.0zM160.4 165.1h2.0v2.0h-2.0zM160.4 171.0h2.0v2.0h-2.0zM160.4 176.8h2.0v2.0h-2.0zM160.4 182.7h2.0v2.0h-2.0zM160.4 194.4h2.0v2.0h-2.0zM167.8 42.0h2.0v2.0h-2.0zM167.8 53.8h2.0v2.0h-2.0zM167.8 65.5h2.0v2.0h-2.0zM167.8 83.0h2.0v2.0h-2.0zM167.8 88.9h2.0v2.0h-2.0zM167.8 94.8h2.0v2.0h-2.0zM167.8 100.6h2.0v2.0h-2.0zM167.8 106.5h2.0v2.0h-2.0zM167.8 112.3h2.0v2.0h-2.0zM167.8 118.2h2.0v2.0h-2.0zM167.8 124.1h2.0v2.0h-2.0zM167.8 129.9h2.0v2.0h-2.0zM167.8 135.8h2.0v2.0h-2.0zM167.8 141.7h2.0v2.0h-2.0zM167.8 147.5h2.0v2.0h-2.0zM167.8 153.4h2.0v2.0h-2.0zM167.8 159.2h2.0v2.0h-2.0zM167.8 165.1h2.0v2.0h-2.0zM167.8 171.0h2.0v2.0h-2.0zM167.8 176.8h2.0v2.0h-2.0zM167.8 182.7h2.0v2.0h-2.0zM167.8 188.5h2.0v2.0h-2.0zM175.2 30.3h2.0v2.0h-2.0zM175.2 53.8h2.0v2.0h-2.0zM175.2 65.5h2.0v2.0h-2.0zM175.2 71.3h2.0v2.0h-2.0zM175.2 77.2h2.0v2.0h-2.0zM175.2 83.0h2.0v2.0h-2.0zM175.2 88.9h2.0v2.0h-2.0zM175.2 94.8h2.0v2.0h-2.0zM175.2 100.6h2.0v2.0h-2.0zM175.2 106.5h2.0v2.0h-2.0zM175.2 112.3h2.0v2.0h-2.0zM175.2 118.2h2.0v2.0h-2.0zM175.2 124.1h2.0v2.0h-2.0zM175.2 129.9h2.0v2.0h-2.0zM175.2 135.8h2.0v2.0h-2.0zM175.2 141.7h2.0v2.0h-2.0zM175.2 147.5h2.0v2.0h-2.0zM175.2 153.4h2.0v2.0h-2.0zM175.2 159.2h2.0v2.0h-2.0zM175.2 165.1h2.0v2.0h-2.0zM175.2 171.0h2.0v2.0h-2.0zM175.2 176.8h2.0v2.0h-2.0zM175.2 188.5h2.0v2.0h-2.0zM175.2 194.4h2.0v2.0h-2.0zM175.2 206.1h2.0v2.0h-2.0zM182.6 65.5h2.0v2.0h-2.0zM182.6 77.2h2.0v2.0h-2.0zM182.6 83.0h2.0v2.0h-2.0zM182.6 88.9h2.0v2.0h-2.0zM182.6 94.8h2.0v2.0h-2.0zM182.6 100.6h2.0v2.0h-2.0zM182.6 106.5h2.0v2.0h-2.0zM182.6 112.3h2.0v2.0h-2.0zM182.6 118.2h2.0v2.0h-2.0zM182.6 124.1h2.0v2.0h-2.0zM182.6 129.9h2.0v2.0h-2.0zM182.6 135.8h2.0v2.0h-2.0zM182.6 141.7h2.0v2.0h-2.0zM182.6 147.5h2.0v2.0h-2.0zM182.6 153.4h2.0v2.0h-2.0zM182.6 159.2h2.0v2.0h-2.0zM182.6 165.1h2.0v2.0h-2.0zM182.6 171.0h2.0v2.0h-2.0zM182.6 176.8h2.0v2.0h-2.0zM182.6 182.7h2.0v2.0h-2.0zM182.6 188.5h2.0v2.0h-2.0zM190.0 65.5h2.0v2.0h-2.0zM190.0 83.0h2.0v2.0h-2.0zM190.0 88.9h2.0v2.0h-2.0zM190.0 94.8h2.0v2.0h-2.0zM190.0 100.6h2.0v2.0h-2.0zM190.0 106.5h2.0v2.0h-2.0zM190.0 112.3h2.0v2.0h-2.0zM190.0 118.2h2.0v2.0h-2.0zM190.0 124.1h2.0v2.0h-2.0zM190.0 129.9h2.0v2.0h-2.0zM190.0 135.8h2.0v2.0h-2.0zM190.0 141.7h2.0v2.0h-2.0zM190.0 147.5h2.0v2.0h-2.0zM190.0 153.4h2.0v2.0h-2.0zM190.0 159.2h2.0v2.0h-2.0zM190.0 165.1h2.0v2.0h-2.0zM190.0 171.0h2.0v2.0h-2.0zM190.0 176.8h2.0v2.0h-2.0zM190.0 188.5h2.0v2.0h-2.0zM190.0 200.3h2.0v2.0h-2.0zM197.4 71.3h2.0v2.0h-2.0zM197.4 77.2h2.0v2.0h-2.0zM197.4 83.0h2.0v2.0h-2.0zM197.4 88.9h2.0v2.0h-2.0zM197.4 94.8h2.0v2.0h-2.0zM197.4 100.6h2.0v2.0h-2.0zM197.4 106.5h2.0v2.0h-2.0zM197.4 112.3h2.0v2.0h-2.0zM197.4 118.2h2.0v2.0h-2.0zM197.4 124.1h2.0v2.0h-2.0zM197.4 129.9h2.0v2.0h-2.0zM197.4 135.8h2.0v2.0h-2.0zM197.4 141.7h2.0v2.0h-2.0zM197.4 147.5h2.0v2.0h-2.0zM197.4 153.4h2.0v2.0h-2.0zM197.4 159.2h2.0v2.0h-2.0zM197.4 165.1h2.0v2.0h-2.0zM197.4 171.0h2.0v2.0h-2.0zM197.4 176.8h2.0v2.0h-2.0zM197.4 188.5h2.0v2.0h-2.0zM197.4 206.1h2.0v2.0h-2.0zM204.8 30.3h2.0v2.0h-2.0zM204.8 59.6h2.0v2.0h-2.0zM204.8 71.3h2.0v2.0h-2.0zM204.8 77.2h2.0v2.0h-2.0zM204.8 88.9h2.0v2.0h-2.0zM204.8 94.8h2.0v2.0h-2.0zM204.8 100.6h2.0v2.0h-2.0zM204.8 106.5h2.0v2.0h-2.0zM204.8 112.3h2.0v2.0h-2.0zM204.8 118.2h2.0v2.0h-2.0zM204.8 124.1h2.0v2.0h-2.0zM204.8 129.9h2.0v2.0h-2.0zM204.8 135.8h2.0v2.0h-2.0zM204.8 141.7h2.0v2.0h-2.0zM204.8 147.5h2.0v2.0h-2.0zM204.8 153.4h2.0v2.0h-2.0zM204.8 159.2h2.0v2.0h-2.0zM204.8 165.1h2.0v2.0h-2.0zM204.8 171.0h2.0v2.0h-2.0zM204.8 176.8h2.0v2.0h-2.0zM204.8 182.7h2.0v2.0h-2.0zM204.8 188.5h2.0v2.0h-2.0zM204.8 194.4h2.0v2.0h-2.0zM212.2 36.2h2.0v2.0h-2.0zM212.2 53.8h2.0v2.0h-2.0zM212.2 77.2h2.0v2.0h-2.0zM212.2 83.0h2.0v2.0h-2.0zM212.2 88.9h2.0v2.0h-2.0zM212.2 94.8h2.0v2.0h-2.0zM212.2 100.6h2.0v2.0h-2.0zM212.2 106.5h2.0v2.0h-2.0zM212.2 112.3h2.0v2.0h-2.0zM212.2 118.2h2.0v2.0h-2.0zM212.2 124.1h2.0v2.0h-2.0zM212.2 129.9h2.0v2.0h-2.0zM212.2 135.8h2.0v2.0h-2.0zM212.2 141.7h2.0v2.0h-2.0zM212.2 147.5h2.0v2.0h-2.0zM212.2 153.4h2.0v2.0h-2.0zM212.2 159.2h2.0v2.0h-2.0zM212.2 165.1h2.0v2.0h-2.0zM212.2 171.0h2.0v2.0h-2.0zM212.2 176.8h2.0v2.0h-2.0zM212.2 188.5h2.0v2.0h-2.0zM212.2 194.4h2.0v2.0h-2.0zM219.6 53.8h2.0v2.0h-2.0zM219.6 65.5h2.0v2.0h-2.0zM219.6 83.0h2.0v2.0h-2.0zM219.6 94.8h2.0v2.0h-2.0zM219.6 100.6h2.0v2.0h-2.0zM219.6 106.5h2.0v2.0h-2.0zM219.6 112.3h2.0v2.0h-2.0zM219.6 118.2h2.0v2.0h-2.0zM219.6 124.1h2.0v2.0h-2.0zM219.6 129.9h2.0v2.0h-2.0zM219.6 135.8h2.0v2.0h-2.0zM219.6 141.7h2.0v2.0h-2.0zM219.6 147.5h2.0v2.0h-2.0zM219.6 153.4h2.0v2.0h-2.0zM219.6 159.2h2.0v2.0h-2.0zM219.6 165.1h2.0v2.0h-2.0zM219.6 171.0h2.0v2.0h-2.0zM219.6 176.8h2.0v2.0h-2.0zM219.6 182.7h2.0v2.0h-2.0zM219.6 188.5h2.0v2.0h-2.0zM219.6 200.3h2.0v2.0h-2.0zM227.0 18.6h2.0v2.0h-2.0zM227.0 59.6h2.0v2.0h-2.0zM227.0 83.0h2.0v2.0h-2.0zM227.0 88.9h2.0v2.0h-2.0zM227.0 94.8h2.0v2.0h-2.0zM227.0 100.6h2.0v2.0h-2.0zM227.0 106.5h2.0v2.0h-2.0zM227.0 112.3h2.0v2.0h-2.0zM227.0 118.2h2.0v2.0h-2.0zM227.0 124.1h2.0v2.0h-2.0zM227.0 129.9h2.0v2.0h-2.0zM227.0 135.8h2.0v2.0h-2.0zM227.0 141.7h2.0v2.0h-2.0zM227.0 147.5h2.0v2.0h-2.0zM227.0 153.4h2.0v2.0h-2.0zM227.0 159.2h2.0v2.0h-2.0zM227.0 165.1h2.0v2.0h-2.0zM227.0 171.0h2.0v2.0h-2.0zM227.0 176.8h2.0v2.0h-2.0zM227.0 182.7h2.0v2.0h-2.0zM227.0 188.5h2.0v2.0h-2.0zM227.0 194.4h2.0v2.0h-2.0zM234.4 47.9h2.0v2.0h-2.0zM234.4 71.3h2.0v2.0h-2.0zM234.4 77.2h2.0v2.0h-2.0zM234.4 83.0h2.0v2.0h-2.0zM234.4 88.9h2.0v2.0h-2.0zM234.4 94.8h2.0v2.0h-2.0zM234.4 100.6h2.0v2.0h-2.0zM234.4 106.5h2.0v2.0h-2.0zM234.4 112.3h2.0v2.0h-2.0zM234.4 118.2h2.0v2.0h-2.0zM234.4 124.1h2.0v2.0h-2.0zM234.4 129.9h2.0v2.0h-2.0zM234.4 135.8h2.0v2.0h-2.0zM234.4 141.7h2.0v2.0h-2.0zM234.4 147.5h2.0v2.0h-2.0zM234.4 153.4h2.0v2.0h-2.0zM234.4 159.2h2.0v2.0h-2.0zM234.4 165.1h2.0v2.0h-2.0zM234.4 171.0h2.0v2.0h-2.0zM234.4 176.8h2.0v2.0h-2.0zM234.4 182.7h2.0v2.0h-2.0zM234.4 188.5h2.0v2.0h-2.0zM241.8 53.8h2.0v2.0h-2.0zM241.8 77.2h2.0v2.0h-2.0zM241.8 88.9h2.0v2.0h-2.0zM241.8 94.8h2.0v2.0h-2.0zM241.8 100.6h2.0v2.0h-2.0zM241.8 106.5h2.0v2.0h-2.0zM241.8 112.3h2.0v2.0h-2.0zM241.8 118.2h2.0v2.0h-2.0zM241.8 124.1h2.0v2.0h-2.0zM241.8 129.9h2.0v2.0h-2.0zM241.8 135.8h2.0v2.0h-2.0zM241.8 141.7h2.0v2.0h-2.0zM241.8 147.5h2.0v2.0h-2.0zM241.8 153.4h2.0v2.0h-2.0zM241.8 159.2h2.0v2.0h-2.0zM241.8 165.1h2.0v2.0h-2.0zM241.8 171.0h2.0v2.0h-2.0zM241.8 176.8h2.0v2.0h-2.0zM241.8 182.7h2.0v2.0h-2.0zM241.8 188.5h2.0v2.0h-2.0zM241.8 194.4h2.0v2.0h-2.0zM249.2 65.5h2.0v2.0h-2.0zM249.2 88.9h2.0v2.0h-2.0zM249.2 94.8h2.0v2.0h-2.0zM249.2 100.6h2.0v2.0h-2.0zM249.2 106.5h2.0v2.0h-2.0zM249.2 112.3h2.0v2.0h-2.0zM249.2 118.2h2.0v2.0h-2.0zM249.2 124.1h2.0v2.0h-2.0zM249.2 129.9h2.0v2.0h-2.0zM249.2 135.8h2.0v2.0h-2.0zM249.2 141.7h2.0v2.0h-2.0zM249.2 147.5h2.0v2.0h-2.0zM249.2 153.4h2.0v2.0h-2.0zM249.2 159.2h2.0v2.0h-2.0zM249.2 165.1h2.0v2.0h-2.0zM249.2 171.0h2.0v2.0h-2.0zM249.2 176.8h2.0v2.0h-2.0zM249.2 182.7h2.0v2.0h-2.0zM249.2 194.4h2.0v2.0h-2.0zM256.7 42.0h2.0v2.0h-2.0zM256.7 53.8h2.0v2.0h-2.0zM256.7 65.5h2.0v2.0h-2.0zM256.7 88.9h2.0v2.0h-2.0zM256.7 94.8h2.0v2.0h-2.0zM256.7 100.6h2.0v2.0h-2.0zM256.7 106.5h2.0v2.0h-2.0zM256.7 112.3h2.0v2.0h-2.0zM256.7 118.2h2.0v2.0h-2.0zM256.7 124.1h2.0v2.0h-2.0zM256.7 129.9h2.0v2.0h-2.0zM256.7 135.8h2.0v2.0h-2.0zM256.7 141.7h2.0v2.0h-2.0zM256.7 147.5h2.0v2.0h-2.0zM256.7 153.4h2.0v2.0h-2.0zM256.7 159.2h2.0v2.0h-2.0zM256.7 165.1h2.0v2.0h-2.0zM256.7 171.0h2.0v2.0h-2.0zM256.7 182.7h2.0v2.0h-2.0zM256.7 194.4h2.0v2.0h-2.0zM256.7 200.3h2.0v2.0h-2.0zM264.1 30.3h2.0v2.0h-2.0zM264.1 65.5h2.0v2.0h-2.0zM264.1 71.3h2.0v2.0h-2.0zM264.1 77.2h2.0v2.0h-2.0zM264.1 83.0h2.0v2.0h-2.0zM264.1 88.9h2.0v2.0h-2.0zM264.1 94.8h2.0v2.0h-2.0zM264.1 100.6h2.0v2.0h-2.0zM264.1 106.5h2.0v2.0h-2.0zM264.1 112.3h2.0v2.0h-2.0zM264.1 118.2h2.0v2.0h-2.0zM264.1 124.1h2.0v2.0h-2.0zM264.1 129.9h2.0v2.0h-2.0zM264.1 135.8h2.0v2.0h-2.0zM264.1 141.7h2.0v2.0h-2.0zM264.1 147.5h2.0v2.0h-2.0zM264.1 153.4h2.0v2.0h-2.0zM264.1 159.2h2.0v2.0h-2.0zM264.1 165.1h2.0v2.0h-2.0zM264.1 171.0h2.0v2.0h-2.0zM264.1 176.8h2.0v2.0h-2.0zM264.1 182.7h2.0v2.0h-2.0zM264.1 188.5h2.0v2.0h-2.0zM264.1 194.4h2.0v2.0h-2.0zM264.1 200.3h2.0v2.0h-2.0zM264.1 206.1h2.0v2.0h-2.0zM271.5 59.6h2.0v2.0h-2.0zM271.5 83.0h2.0v2.0h-2.0zM271.5 88.9h2.0v2.0h-2.0zM271.5 94.8h2.0v2.0h-2.0zM271.5 100.6h2.0v2.0h-2.0zM271.5 106.5h2.0v2.0h-2.0zM271.5 112.3h2.0v2.0h-2.0zM271.5 118.2h2.0v2.0h-2.0zM271.5 124.1h2.0v2.0h-2.0zM271.5 129.9h2.0v2.0h-2.0zM271.5 135.8h2.0v2.0h-2.0zM271.5 141.7h2.0v2.0h-2.0zM271.5 147.5h2.0v2.0h-2.0zM271.5 153.4h2.0v2.0h-2.0zM271.5 159.2h2.0v2.0h-2.0zM271.5 165.1h2.0v2.0h-2.0zM271.5 171.0h2.0v2.0h-2.0zM271.5 176.8h2.0v2.0h-2.0zM271.5 182.7h2.0v2.0h-2.0zM271.5 188.5h2.0v2.0h-2.0zM271.5 194.4h2.0v2.0h-2.0zM271.5 200.3h2.0v2.0h-2.0zM271.5 206.1h2.0v2.0h-2.0zM278.9 30.3h2.0v2.0h-2.0zM278.9 47.9h2.0v2.0h-2.0zM278.9 53.8h2.0v2.0h-2.0zM278.9 65.5h2.0v2.0h-2.0zM278.9 88.9h2.0v2.0h-2.0zM278.9 94.8h2.0v2.0h-2.0zM278.9 100.6h2.0v2.0h-2.0zM278.9 106.5h2.0v2.0h-2.0zM278.9 112.3h2.0v2.0h-2.0zM278.9 118.2h2.0v2.0h-2.0zM278.9 124.1h2.0v2.0h-2.0zM278.9 129.9h2.0v2.0h-2.0zM278.9 135.8h2.0v2.0h-2.0zM278.9 141.7h2.0v2.0h-2.0zM278.9 147.5h2.0v2.0h-2.0zM278.9 153.4h2.0v2.0h-2.0zM278.9 159.2h2.0v2.0h-2.0zM278.9 165.1h2.0v2.0h-2.0zM278.9 171.0h2.0v2.0h-2.0zM278.9 176.8h2.0v2.0h-2.0zM278.9 182.7h2.0v2.0h-2.0zM278.9 188.5h2.0v2.0h-2.0zM278.9 194.4h2.0v2.0h-2.0zM278.9 200.3h2.0v2.0h-2.0zM278.9 206.1h2.0v2.0h-2.0zM278.9 212.0h2.0v2.0h-2.0zM278.9 241.3h2.0v2.0h-2.0zM286.3 30.3h2.0v2.0h-2.0zM286.3 47.9h2.0v2.0h-2.0zM286.3 59.6h2.0v2.0h-2.0zM286.3 71.3h2.0v2.0h-2.0zM286.3 77.2h2.0v2.0h-2.0zM286.3 83.0h2.0v2.0h-2.0zM286.3 88.9h2.0v2.0h-2.0zM286.3 94.8h2.0v2.0h-2.0zM286.3 100.6h2.0v2.0h-2.0zM286.3 106.5h2.0v2.0h-2.0zM286.3 112.3h2.0v2.0h-2.0zM286.3 118.2h2.0v2.0h-2.0zM286.3 124.1h2.0v2.0h-2.0zM286.3 129.9h2.0v2.0h-2.0zM286.3 135.8h2.0v2.0h-2.0zM286.3 141.7h2.0v2.0h-2.0zM286.3 147.5h2.0v2.0h-2.0zM286.3 153.4h2.0v2.0h-2.0zM286.3 159.2h2.0v2.0h-2.0zM286.3 165.1h2.0v2.0h-2.0zM286.3 171.0h2.0v2.0h-2.0zM286.3 176.8h2.0v2.0h-2.0zM286.3 182.7h2.0v2.0h-2.0zM286.3 188.5h2.0v2.0h-2.0zM286.3 194.4h2.0v2.0h-2.0zM286.3 200.3h2.0v2.0h-2.0zM286.3 206.1h2.0v2.0h-2.0zM286.3 223.7h2.0v2.0h-2.0zM293.7 59.6h2.0v2.0h-2.0zM293.7 77.2h2.0v2.0h-2.0zM293.7 83.0h2.0v2.0h-2.0zM293.7 88.9h2.0v2.0h-2.0zM293.7 94.8h2.0v2.0h-2.0zM293.7 100.6h2.0v2.0h-2.0zM293.7 106.5h2.0v2.0h-2.0zM293.7 112.3h2.0v2.0h-2.0zM293.7 118.2h2.0v2.0h-2.0zM293.7 124.1h2.0v2.0h-2.0zM293.7 129.9h2.0v2.0h-2.0zM293.7 135.8h2.0v2.0h-2.0zM293.7 141.7h2.0v2.0h-2.0zM293.7 147.5h2.0v2.0h-2.0zM293.7 153.4h2.0v2.0h-2.0zM293.7 159.2h2.0v2.0h-2.0zM293.7 165.1h2.0v2.0h-2.0zM293.7 171.0h2.0v2.0h-2.0zM293.7 176.8h2.0v2.0h-2.0zM293.7 188.5h2.0v2.0h-2.0zM293.7 194.4h2.0v2.0h-2.0zM293.7 200.3h2.0v2.0h-2.0zM293.7 206.1h2.0v2.0h-2.0zM293.7 217.8h2.0v2.0h-2.0zM293.7 223.7h2.0v2.0h-2.0zM293.7 229.6h2.0v2.0h-2.0zM301.1 77.2h2.0v2.0h-2.0zM301.1 88.9h2.0v2.0h-2.0zM301.1 94.8h2.0v2.0h-2.0zM301.1 100.6h2.0v2.0h-2.0zM301.1 106.5h2.0v2.0h-2.0zM301.1 112.3h2.0v2.0h-2.0zM301.1 118.2h2.0v2.0h-2.0zM301.1 124.1h2.0v2.0h-2.0zM301.1 129.9h2.0v2.0h-2.0zM301.1 135.8h2.0v2.0h-2.0zM301.1 141.7h2.0v2.0h-2.0zM301.1 147.5h2.0v2.0h-2.0zM301.1 153.4h2.0v2.0h-2.0zM301.1 159.2h2.0v2.0h-2.0zM301.1 165.1h2.0v2.0h-2.0zM301.1 171.0h2.0v2.0h-2.0zM301.1 176.8h2.0v2.0h-2.0zM301.1 188.5h2.0v2.0h-2.0zM301.1 194.4h2.0v2.0h-2.0zM301.1 200.3h2.0v2.0h-2.0zM301.1 212.0h2.0v2.0h-2.0zM301.1 217.8h2.0v2.0h-2.0zM301.1 223.7h2.0v2.0h-2.0zM301.1 235.4h2.0v2.0h-2.0zM308.5 30.3h2.0v2.0h-2.0zM308.5 59.6h2.0v2.0h-2.0zM308.5 65.5h2.0v2.0h-2.0zM308.5 77.2h2.0v2.0h-2.0zM308.5 83.0h2.0v2.0h-2.0zM308.5 88.9h2.0v2.0h-2.0zM308.5 94.8h2.0v2.0h-2.0zM308.5 100.6h2.0v2.0h-2.0zM308.5 106.5h2.0v2.0h-2.0zM308.5 112.3h2.0v2.0h-2.0zM308.5 118.2h2.0v2.0h-2.0zM308.5 124.1h2.0v2.0h-2.0zM308.5 129.9h2.0v2.0h-2.0zM308.5 135.8h2.0v2.0h-2.0zM308.5 141.7h2.0v2.0h-2.0zM308.5 147.5h2.0v2.0h-2.0zM308.5 153.4h2.0v2.0h-2.0zM308.5 159.2h2.0v2.0h-2.0zM308.5 165.1h2.0v2.0h-2.0zM308.5 171.0h2.0v2.0h-2.0zM308.5 176.8h2.0v2.0h-2.0zM308.5 182.7h2.0v2.0h-2.0zM308.5 188.5h2.0v2.0h-2.0zM308.5 200.3h2.0v2.0h-2.0zM308.5 223.7h2.0v2.0h-2.0zM308.5 229.6h2.0v2.0h-2.0zM308.5 235.4h2.0v2.0h-2.0zM315.9 59.6h2.0v2.0h-2.0zM315.9 65.5h2.0v2.0h-2.0zM315.9 77.2h2.0v2.0h-2.0zM315.9 83.0h2.0v2.0h-2.0zM315.9 88.9h2.0v2.0h-2.0zM315.9 94.8h2.0v2.0h-2.0zM315.9 100.6h2.0v2.0h-2.0zM315.9 106.5h2.0v2.0h-2.0zM315.9 112.3h2.0v2.0h-2.0zM315.9 118.2h2.0v2.0h-2.0zM315.9 124.1h2.0v2.0h-2.0zM315.9 129.9h2.0v2.0h-2.0zM315.9 135.8h2.0v2.0h-2.0zM315.9 141.7h2.0v2.0h-2.0zM315.9 147.5h2.0v2.0h-2.0zM315.9 153.4h2.0v2.0h-2.0zM315.9 159.2h2.0v2.0h-2.0zM315.9 165.1h2.0v2.0h-2.0zM315.9 171.0h2.0v2.0h-2.0zM315.9 176.8h2.0v2.0h-2.0zM315.9 182.7h2.0v2.0h-2.0zM315.9 188.5h2.0v2.0h-2.0zM315.9 200.3h2.0v2.0h-2.0zM315.9 212.0h2.0v2.0h-2.0zM315.9 235.4h2.0v2.0h-2.0zM323.3 47.9h2.0v2.0h-2.0zM323.3 59.6h2.0v2.0h-2.0zM323.3 65.5h2.0v2.0h-2.0zM323.3 77.2h2.0v2.0h-2.0zM323.3 88.9h2.0v2.0h-2.0zM323.3 94.8h2.0v2.0h-2.0zM323.3 100.6h2.0v2.0h-2.0zM323.3 106.5h2.0v2.0h-2.0zM323.3 112.3h2.0v2.0h-2.0zM323.3 118.2h2.0v2.0h-2.0zM323.3 124.1h2.0v2.0h-2.0zM323.3 129.9h2.0v2.0h-2.0zM323.3 135.8h2.0v2.0h-2.0zM323.3 141.7h2.0v2.0h-2.0zM323.3 147.5h2.0v2.0h-2.0zM323.3 153.4h2.0v2.0h-2.0zM323.3 159.2h2.0v2.0h-2.0zM323.3 165.1h2.0v2.0h-2.0zM323.3 171.0h2.0v2.0h-2.0zM323.3 176.8h2.0v2.0h-2.0zM323.3 182.7h2.0v2.0h-2.0zM323.3 188.5h2.0v2.0h-2.0zM323.3 194.4h2.0v2.0h-2.0zM323.3 200.3h2.0v2.0h-2.0zM323.3 212.0h2.0v2.0h-2.0zM323.3 241.3h2.0v2.0h-2.0zM330.7 24.4h2.0v2.0h-2.0zM330.7 59.6h2.0v2.0h-2.0zM330.7 83.0h2.0v2.0h-2.0zM330.7 88.9h2.0v2.0h-2.0zM330.7 94.8h2.0v2.0h-2.0zM330.7 100.6h2.0v2.0h-2.0zM330.7 106.5h2.0v2.0h-2.0zM330.7 112.3h2.0v2.0h-2.0zM330.7 118.2h2.0v2.0h-2.0zM330.7 124.1h2.0v2.0h-2.0zM330.7 129.9h2.0v2.0h-2.0zM330.7 135.8h2.0v2.0h-2.0zM330.7 141.7h2.0v2.0h-2.0zM330.7 147.5h2.0v2.0h-2.0zM330.7 153.4h2.0v2.0h-2.0zM330.7 159.2h2.0v2.0h-2.0zM330.7 171.0h2.0v2.0h-2.0zM330.7 176.8h2.0v2.0h-2.0zM330.7 182.7h2.0v2.0h-2.0zM330.7 188.5h2.0v2.0h-2.0zM330.7 194.4h2.0v2.0h-2.0zM330.7 206.1h2.0v2.0h-2.0zM330.7 247.1h2.0v2.0h-2.0zM338.1 47.9h2.0v2.0h-2.0zM338.1 53.8h2.0v2.0h-2.0zM338.1 65.5h2.0v2.0h-2.0zM338.1 71.3h2.0v2.0h-2.0zM338.1 77.2h2.0v2.0h-2.0zM338.1 83.0h2.0v2.0h-2.0zM338.1 88.9h2.0v2.0h-2.0zM338.1 94.8h2.0v2.0h-2.0zM338.1 100.6h2.0v2.0h-2.0zM338.1 106.5h2.0v2.0h-2.0zM338.1 112.3h2.0v2.0h-2.0zM338.1 118.2h2.0v2.0h-2.0zM338.1 124.1h2.0v2.0h-2.0zM338.1 129.9h2.0v2.0h-2.0zM338.1 135.8h2.0v2.0h-2.0zM338.1 141.7h2.0v2.0h-2.0zM338.1 147.5h2.0v2.0h-2.0zM338.1 153.4h2.0v2.0h-2.0zM338.1 159.2h2.0v2.0h-2.0zM338.1 165.1h2.0v2.0h-2.0zM338.1 171.0h2.0v2.0h-2.0zM338.1 176.8h2.0v2.0h-2.0zM338.1 182.7h2.0v2.0h-2.0zM338.1 188.5h2.0v2.0h-2.0zM338.1 194.4h2.0v2.0h-2.0zM338.1 200.3h2.0v2.0h-2.0zM338.1 247.1h2.0v2.0h-2.0zM345.5 71.3h2.0v2.0h-2.0zM345.5 83.0h2.0v2.0h-2.0zM345.5 88.9h2.0v2.0h-2.0zM345.5 94.8h2.0v2.0h-2.0zM345.5 100.6h2.0v2.0h-2.0zM345.5 106.5h2.0v2.0h-2.0zM345.5 112.3h2.0v2.0h-2.0zM345.5 118.2h2.0v2.0h-2.0zM345.5 124.1h2.0v2.0h-2.0zM345.5 129.9h2.0v2.0h-2.0zM345.5 135.8h2.0v2.0h-2.0zM345.5 141.7h2.0v2.0h-2.0zM345.5 147.5h2.0v2.0h-2.0zM345.5 153.4h2.0v2.0h-2.0zM345.5 159.2h2.0v2.0h-2.0zM345.5 165.1h2.0v2.0h-2.0zM345.5 171.0h2.0v2.0h-2.0zM345.5 176.8h2.0v2.0h-2.0zM345.5 182.7h2.0v2.0h-2.0zM345.5 188.5h2.0v2.0h-2.0zM345.5 206.1h2.0v2.0h-2.0zM345.5 241.3h2.0v2.0h-2.0zM352.9 18.6h2.0v2.0h-2.0zM352.9 59.6h2.0v2.0h-2.0zM352.9 83.0h2.0v2.0h-2.0zM352.9 88.9h2.0v2.0h-2.0zM352.9 94.8h2.0v2.0h-2.0zM352.9 100.6h2.0v2.0h-2.0zM352.9 106.5h2.0v2.0h-2.0zM352.9 112.3h2.0v2.0h-2.0zM352.9 118.2h2.0v2.0h-2.0zM352.9 124.1h2.0v2.0h-2.0zM352.9 129.9h2.0v2.0h-2.0zM352.9 135.8h2.0v2.0h-2.0zM352.9 141.7h2.0v2.0h-2.0zM352.9 147.5h2.0v2.0h-2.0zM352.9 153.4h2.0v2.0h-2.0zM352.9 159.2h2.0v2.0h-2.0zM352.9 171.0h2.0v2.0h-2.0zM352.9 176.8h2.0v2.0h-2.0zM352.9 194.4h2.0v2.0h-2.0zM352.9 200.3h2.0v2.0h-2.0zM352.9 206.1h2.0v2.0h-2.0zM352.9 253.0h2.0v2.0h-2.0zM360.3 6.9h2.0v2.0h-2.0zM360.3 30.3h2.0v2.0h-2.0zM360.3 42.0h2.0v2.0h-2.0zM360.3 53.8h2.0v2.0h-2.0zM360.3 59.6h2.0v2.0h-2.0zM360.3 71.3h2.0v2.0h-2.0zM360.3 83.0h2.0v2.0h-2.0zM360.3 88.9h2.0v2.0h-2.0zM360.3 94.8h2.0v2.0h-2.0zM360.3 100.6h2.0v2.0h-2.0zM360.3 106.5h2.0v2.0h-2.0zM360.3 112.3h2.0v2.0h-2.0zM360.3 118.2h2.0v2.0h-2.0zM360.3 124.1h2.0v2.0h-2.0zM360.3 129.9h2.0v2.0h-2.0zM360.3 135.8h2.0v2.0h-2.0zM360.3 141.7h2.0v2.0h-2.0zM360.3 147.5h2.0v2.0h-2.0zM360.3 153.4h2.0v2.0h-2.0zM360.3 159.2h2.0v2.0h-2.0zM360.3 165.1h2.0v2.0h-2.0zM360.3 171.0h2.0v2.0h-2.0zM360.3 182.7h2.0v2.0h-2.0zM360.3 188.5h2.0v2.0h-2.0zM360.3 194.4h2.0v2.0h-2.0zM360.3 247.1h2.0v2.0h-2.0zM367.7 18.6h2.0v2.0h-2.0zM367.7 30.3h2.0v2.0h-2.0zM367.7 47.9h2.0v2.0h-2.0zM367.7 65.5h2.0v2.0h-2.0zM367.7 71.3h2.0v2.0h-2.0zM367.7 83.0h2.0v2.0h-2.0zM367.7 88.9h2.0v2.0h-2.0zM367.7 94.8h2.0v2.0h-2.0zM367.7 100.6h2.0v2.0h-2.0zM367.7 106.5h2.0v2.0h-2.0zM367.7 112.3h2.0v2.0h-2.0zM367.7 118.2h2.0v2.0h-2.0zM367.7 124.1h2.0v2.0h-2.0zM367.7 129.9h2.0v2.0h-2.0zM367.7 135.8h2.0v2.0h-2.0zM367.7 141.7h2.0v2.0h-2.0zM367.7 147.5h2.0v2.0h-2.0zM367.7 153.4h2.0v2.0h-2.0zM367.7 159.2h2.0v2.0h-2.0zM367.7 165.1h2.0v2.0h-2.0zM367.7 171.0h2.0v2.0h-2.0zM367.7 176.8h2.0v2.0h-2.0zM367.7 182.7h2.0v2.0h-2.0zM367.7 188.5h2.0v2.0h-2.0zM367.7 194.4h2.0v2.0h-2.0zM367.7 200.3h2.0v2.0h-2.0zM367.7 229.6h2.0v2.0h-2.0zM367.7 235.4h2.0v2.0h-2.0zM375.2 12.7h2.0v2.0h-2.0zM375.2 42.0h2.0v2.0h-2.0zM375.2 59.6h2.0v2.0h-2.0zM375.2 71.3h2.0v2.0h-2.0zM375.2 83.0h2.0v2.0h-2.0zM375.2 88.9h2.0v2.0h-2.0zM375.2 94.8h2.0v2.0h-2.0zM375.2 100.6h2.0v2.0h-2.0zM375.2 106.5h2.0v2.0h-2.0zM375.2 112.3h2.0v2.0h-2.0zM375.2 118.2h2.0v2.0h-2.0zM375.2 124.1h2.0v2.0h-2.0zM375.2 129.9h2.0v2.0h-2.0zM375.2 135.8h2.0v2.0h-2.0zM375.2 141.7h2.0v2.0h-2.0zM375.2 147.5h2.0v2.0h-2.0zM375.2 153.4h2.0v2.0h-2.0zM375.2 159.2h2.0v2.0h-2.0zM375.2 165.1h2.0v2.0h-2.0zM375.2 176.8h2.0v2.0h-2.0zM375.2 182.7h2.0v2.0h-2.0zM375.2 188.5h2.0v2.0h-2.0zM375.2 194.4h2.0v2.0h-2.0zM375.2 253.0h2.0v2.0h-2.0zM382.6 12.7h2.0v2.0h-2.0zM382.6 18.6h2.0v2.0h-2.0zM382.6 36.2h2.0v2.0h-2.0zM382.6 42.0h2.0v2.0h-2.0zM382.6 65.5h2.0v2.0h-2.0zM382.6 71.3h2.0v2.0h-2.0zM382.6 77.2h2.0v2.0h-2.0zM382.6 83.0h2.0v2.0h-2.0zM382.6 88.9h2.0v2.0h-2.0zM382.6 94.8h2.0v2.0h-2.0zM382.6 100.6h2.0v2.0h-2.0zM382.6 106.5h2.0v2.0h-2.0zM382.6 112.3h2.0v2.0h-2.0zM382.6 118.2h2.0v2.0h-2.0zM382.6 124.1h2.0v2.0h-2.0zM382.6 129.9h2.0v2.0h-2.0zM382.6 135.8h2.0v2.0h-2.0zM382.6 141.7h2.0v2.0h-2.0zM382.6 147.5h2.0v2.0h-2.0zM382.6 153.4h2.0v2.0h-2.0zM382.6 159.2h2.0v2.0h-2.0zM382.6 171.0h2.0v2.0h-2.0zM382.6 176.8h2.0v2.0h-2.0zM382.6 182.7h2.0v2.0h-2.0zM382.6 200.3h2.0v2.0h-2.0zM382.6 235.4h2.0v2.0h-2.0zM390.0 24.4h2.0v2.0h-2.0zM390.0 36.2h2.0v2.0h-2.0zM390.0 42.0h2.0v2.0h-2.0zM390.0 65.5h2.0v2.0h-2.0zM390.0 71.3h2.0v2.0h-2.0zM390.0 77.2h2.0v2.0h-2.0zM390.0 83.0h2.0v2.0h-2.0zM390.0 88.9h2.0v2.0h-2.0zM390.0 94.8h2.0v2.0h-2.0zM390.0 100.6h2.0v2.0h-2.0zM390.0 106.5h2.0v2.0h-2.0zM390.0 112.3h2.0v2.0h-2.0zM390.0 118.2h2.0v2.0h-2.0zM390.0 124.1h2.0v2.0h-2.0zM390.0 129.9h2.0v2.0h-2.0zM390.0 135.8h2.0v2.0h-2.0zM390.0 141.7h2.0v2.0h-2.0zM390.0 147.5h2.0v2.0h-2.0zM390.0 153.4h2.0v2.0h-2.0zM390.0 159.2h2.0v2.0h-2.0zM390.0 165.1h2.0v2.0h-2.0zM390.0 171.0h2.0v2.0h-2.0zM390.0 176.8h2.0v2.0h-2.0zM390.0 182.7h2.0v2.0h-2.0zM390.0 194.4h2.0v2.0h-2.0zM390.0 200.3h2.0v2.0h-2.0zM397.4 24.4h2.0v2.0h-2.0zM397.4 36.2h2.0v2.0h-2.0zM397.4 65.5h2.0v2.0h-2.0zM397.4 77.2h2.0v2.0h-2.0zM397.4 83.0h2.0v2.0h-2.0zM397.4 88.9h2.0v2.0h-2.0zM397.4 94.8h2.0v2.0h-2.0zM397.4 100.6h2.0v2.0h-2.0zM397.4 106.5h2.0v2.0h-2.0zM397.4 112.3h2.0v2.0h-2.0zM397.4 118.2h2.0v2.0h-2.0zM397.4 124.1h2.0v2.0h-2.0zM397.4 129.9h2.0v2.0h-2.0zM397.4 135.8h2.0v2.0h-2.0zM397.4 141.7h2.0v2.0h-2.0zM397.4 147.5h2.0v2.0h-2.0zM397.4 153.4h2.0v2.0h-2.0zM397.4 159.2h2.0v2.0h-2.0zM397.4 171.0h2.0v2.0h-2.0zM397.4 182.7h2.0v2.0h-2.0zM397.4 194.4h2.0v2.0h-2.0zM397.4 206.1h2.0v2.0h-2.0zM397.4 235.4h2.0v2.0h-2.0zM404.8 24.4h2.0v2.0h-2.0zM404.8 42.0h2.0v2.0h-2.0zM404.8 71.3h2.0v2.0h-2.0zM404.8 77.2h2.0v2.0h-2.0zM404.8 88.9h2.0v2.0h-2.0zM404.8 94.8h2.0v2.0h-2.0zM404.8 100.6h2.0v2.0h-2.0zM404.8 106.5h2.0v2.0h-2.0zM404.8 112.3h2.0v2.0h-2.0zM404.8 118.2h2.0v2.0h-2.0zM404.8 124.1h2.0v2.0h-2.0zM404.8 129.9h2.0v2.0h-2.0zM404.8 135.8h2.0v2.0h-2.0zM404.8 141.7h2.0v2.0h-2.0zM404.8 147.5h2.0v2.0h-2.0zM404.8 159.2h2.0v2.0h-2.0zM404.8 171.0h2.0v2.0h-2.0zM404.8 176.8h2.0v2.0h-2.0zM404.8 182.7h2.0v2.0h-2.0zM404.8 194.4h2.0v2.0h-2.0zM404.8 200.3h2.0v2.0h-2.0zM404.8 217.8h2.0v2.0h-2.0zM412.2 18.6h2.0v2.0h-2.0zM412.2 24.4h2.0v2.0h-2.0zM412.2 36.2h2.0v2.0h-2.0zM412.2 42.0h2.0v2.0h-2.0zM412.2 65.5h2.0v2.0h-2.0zM412.2 71.3h2.0v2.0h-2.0zM412.2 83.0h2.0v2.0h-2.0zM412.2 88.9h2.0v2.0h-2.0zM412.2 100.6h2.0v2.0h-2.0zM412.2 106.5h2.0v2.0h-2.0zM412.2 112.3h2.0v2.0h-2.0zM412.2 118.2h2.0v2.0h-2.0zM412.2 124.1h2.0v2.0h-2.0zM412.2 129.9h2.0v2.0h-2.0zM412.2 135.8h2.0v2.0h-2.0zM412.2 141.7h2.0v2.0h-2.0zM412.2 147.5h2.0v2.0h-2.0zM412.2 153.4h2.0v2.0h-2.0zM412.2 159.2h2.0v2.0h-2.0zM412.2 165.1h2.0v2.0h-2.0zM412.2 182.7h2.0v2.0h-2.0zM412.2 212.0h2.0v2.0h-2.0zM412.2 223.7h2.0v2.0h-2.0zM412.2 229.6h2.0v2.0h-2.0zM419.6 30.3h2.0v2.0h-2.0zM419.6 42.0h2.0v2.0h-2.0zM419.6 65.5h2.0v2.0h-2.0zM419.6 71.3h2.0v2.0h-2.0zM419.6 77.2h2.0v2.0h-2.0zM419.6 88.9h2.0v2.0h-2.0zM419.6 94.8h2.0v2.0h-2.0zM419.6 100.6h2.0v2.0h-2.0zM419.6 106.5h2.0v2.0h-2.0zM419.6 112.3h2.0v2.0h-2.0zM419.6 118.2h2.0v2.0h-2.0zM419.6 124.1h2.0v2.0h-2.0zM419.6 129.9h2.0v2.0h-2.0zM419.6 135.8h2.0v2.0h-2.0zM419.6 141.7h2.0v2.0h-2.0zM419.6 147.5h2.0v2.0h-2.0zM419.6 153.4h2.0v2.0h-2.0zM419.6 159.2h2.0v2.0h-2.0zM419.6 165.1h2.0v2.0h-2.0zM419.6 171.0h2.0v2.0h-2.0zM419.6 176.8h2.0v2.0h-2.0zM419.6 182.7h2.0v2.0h-2.0zM419.6 194.4h2.0v2.0h-2.0zM419.6 206.1h2.0v2.0h-2.0zM427.0 12.7h2.0v2.0h-2.0zM427.0 42.0h2.0v2.0h-2.0zM427.0 59.6h2.0v2.0h-2.0zM427.0 71.3h2.0v2.0h-2.0zM427.0 77.2h2.0v2.0h-2.0zM427.0 83.0h2.0v2.0h-2.0zM427.0 94.8h2.0v2.0h-2.0zM427.0 100.6h2.0v2.0h-2.0zM427.0 112.3h2.0v2.0h-2.0zM427.0 118.2h2.0v2.0h-2.0zM427.0 124.1h2.0v2.0h-2.0zM427.0 129.9h2.0v2.0h-2.0zM427.0 135.8h2.0v2.0h-2.0zM427.0 141.7h2.0v2.0h-2.0zM427.0 147.5h2.0v2.0h-2.0zM427.0 153.4h2.0v2.0h-2.0zM427.0 159.2h2.0v2.0h-2.0zM427.0 176.8h2.0v2.0h-2.0zM427.0 182.7h2.0v2.0h-2.0zM427.0 188.5h2.0v2.0h-2.0zM427.0 194.4h2.0v2.0h-2.0zM427.0 200.3h2.0v2.0h-2.0zM434.4 18.6h2.0v2.0h-2.0zM434.4 30.3h2.0v2.0h-2.0zM434.4 36.2h2.0v2.0h-2.0zM434.4 65.5h2.0v2.0h-2.0zM434.4 71.3h2.0v2.0h-2.0zM434.4 77.2h2.0v2.0h-2.0zM434.4 83.0h2.0v2.0h-2.0zM434.4 88.9h2.0v2.0h-2.0zM434.4 94.8h2.0v2.0h-2.0zM434.4 100.6h2.0v2.0h-2.0zM434.4 106.5h2.0v2.0h-2.0zM434.4 118.2h2.0v2.0h-2.0zM434.4 124.1h2.0v2.0h-2.0zM434.4 129.9h2.0v2.0h-2.0zM434.4 135.8h2.0v2.0h-2.0zM434.4 141.7h2.0v2.0h-2.0zM434.4 147.5h2.0v2.0h-2.0zM434.4 153.4h2.0v2.0h-2.0zM434.4 159.2h2.0v2.0h-2.0zM434.4 165.1h2.0v2.0h-2.0zM434.4 176.8h2.0v2.0h-2.0zM434.4 200.3h2.0v2.0h-2.0zM434.4 217.8h2.0v2.0h-2.0zM434.4 247.1h2.0v2.0h-2.0zM441.8 36.2h2.0v2.0h-2.0zM441.8 59.6h2.0v2.0h-2.0zM441.8 65.5h2.0v2.0h-2.0zM441.8 71.3h2.0v2.0h-2.0zM441.8 77.2h2.0v2.0h-2.0zM441.8 83.0h2.0v2.0h-2.0zM441.8 88.9h2.0v2.0h-2.0zM441.8 94.8h2.0v2.0h-2.0zM441.8 100.6h2.0v2.0h-2.0zM441.8 106.5h2.0v2.0h-2.0zM441.8 112.3h2.0v2.0h-2.0zM441.8 118.2h2.0v2.0h-2.0zM441.8 124.1h2.0v2.0h-2.0zM441.8 129.9h2.0v2.0h-2.0zM441.8 135.8h2.0v2.0h-2.0zM441.8 141.7h2.0v2.0h-2.0zM441.8 147.5h2.0v2.0h-2.0zM441.8 153.4h2.0v2.0h-2.0zM441.8 159.2h2.0v2.0h-2.0zM441.8 165.1h2.0v2.0h-2.0zM441.8 171.0h2.0v2.0h-2.0zM441.8 176.8h2.0v2.0h-2.0zM441.8 182.7h2.0v2.0h-2.0zM441.8 217.8h2.0v2.0h-2.0zM449.2 42.0h2.0v2.0h-2.0zM449.2 53.8h2.0v2.0h-2.0zM449.2 59.6h2.0v2.0h-2.0zM449.2 65.5h2.0v2.0h-2.0zM449.2 77.2h2.0v2.0h-2.0zM449.2 83.0h2.0v2.0h-2.0zM449.2 88.9h2.0v2.0h-2.0zM449.2 94.8h2.0v2.0h-2.0zM449.2 100.6h2.0v2.0h-2.0zM449.2 106.5h2.0v2.0h-2.0zM449.2 112.3h2.0v2.0h-2.0zM449.2 118.2h2.0v2.0h-2.0zM449.2 124.1h2.0v2.0h-2.0zM449.2 129.9h2.0v2.0h-2.0zM449.2 135.8h2.0v2.0h-2.0zM449.2 141.7h2.0v2.0h-2.0zM449.2 147.5h2.0v2.0h-2.0zM449.2 153.4h2.0v2.0h-2.0zM449.2 159.2h2.0v2.0h-2.0zM449.2 165.1h2.0v2.0h-2.0zM449.2 182.7h2.0v2.0h-2.0zM449.2 194.4h2.0v2.0h-2.0zM449.2 212.0h2.0v2.0h-2.0zM449.2 223.7h2.0v2.0h-2.0zM449.2 253.0h2.0v2.0h-2.0zM456.6 47.9h2.0v2.0h-2.0zM456.6 77.2h2.0v2.0h-2.0zM456.6 83.0h2.0v2.0h-2.0zM456.6 88.9h2.0v2.0h-2.0zM456.6 94.8h2.0v2.0h-2.0zM456.6 100.6h2.0v2.0h-2.0zM456.6 106.5h2.0v2.0h-2.0zM456.6 112.3h2.0v2.0h-2.0zM456.6 118.2h2.0v2.0h-2.0zM456.6 124.1h2.0v2.0h-2.0zM456.6 129.9h2.0v2.0h-2.0zM456.6 135.8h2.0v2.0h-2.0zM456.6 141.7h2.0v2.0h-2.0zM456.6 147.5h2.0v2.0h-2.0zM456.6 153.4h2.0v2.0h-2.0zM456.6 159.2h2.0v2.0h-2.0zM456.6 165.1h2.0v2.0h-2.0zM456.6 176.8h2.0v2.0h-2.0zM456.6 182.7h2.0v2.0h-2.0zM456.6 194.4h2.0v2.0h-2.0zM456.6 200.3h2.0v2.0h-2.0zM456.6 217.8h2.0v2.0h-2.0zM464.0 36.2h2.0v2.0h-2.0zM464.0 42.0h2.0v2.0h-2.0zM464.0 71.3h2.0v2.0h-2.0zM464.0 77.2h2.0v2.0h-2.0zM464.0 83.0h2.0v2.0h-2.0zM464.0 88.9h2.0v2.0h-2.0zM464.0 94.8h2.0v2.0h-2.0zM464.0 100.6h2.0v2.0h-2.0zM464.0 106.5h2.0v2.0h-2.0zM464.0 112.3h2.0v2.0h-2.0zM464.0 118.2h2.0v2.0h-2.0zM464.0 124.1h2.0v2.0h-2.0zM464.0 129.9h2.0v2.0h-2.0zM464.0 135.8h2.0v2.0h-2.0zM464.0 141.7h2.0v2.0h-2.0zM464.0 147.5h2.0v2.0h-2.0zM464.0 153.4h2.0v2.0h-2.0zM464.0 159.2h2.0v2.0h-2.0zM464.0 165.1h2.0v2.0h-2.0zM464.0 171.0h2.0v2.0h-2.0zM464.0 182.7h2.0v2.0h-2.0zM464.0 188.5h2.0v2.0h-2.0zM464.0 200.3h2.0v2.0h-2.0zM464.0 212.0h2.0v2.0h-2.0zM471.4 59.6h2.0v2.0h-2.0zM471.4 65.5h2.0v2.0h-2.0zM471.4 71.3h2.0v2.0h-2.0zM471.4 88.9h2.0v2.0h-2.0zM471.4 94.8h2.0v2.0h-2.0zM471.4 100.6h2.0v2.0h-2.0zM471.4 106.5h2.0v2.0h-2.0zM471.4 112.3h2.0v2.0h-2.0zM471.4 118.2h2.0v2.0h-2.0zM471.4 124.1h2.0v2.0h-2.0zM471.4 129.9h2.0v2.0h-2.0zM471.4 135.8h2.0v2.0h-2.0zM471.4 141.7h2.0v2.0h-2.0zM471.4 147.5h2.0v2.0h-2.0zM471.4 153.4h2.0v2.0h-2.0zM471.4 159.2h2.0v2.0h-2.0zM471.4 165.1h2.0v2.0h-2.0zM471.4 171.0h2.0v2.0h-2.0zM471.4 182.7h2.0v2.0h-2.0zM471.4 200.3h2.0v2.0h-2.0zM471.4 253.0h2.0v2.0h-2.0zM478.8 24.4h2.0v2.0h-2.0zM478.8 47.9h2.0v2.0h-2.0zM478.8 59.6h2.0v2.0h-2.0zM478.8 65.5h2.0v2.0h-2.0zM478.8 88.9h2.0v2.0h-2.0zM478.8 94.8h2.0v2.0h-2.0zM478.8 100.6h2.0v2.0h-2.0zM478.8 106.5h2.0v2.0h-2.0zM478.8 112.3h2.0v2.0h-2.0zM478.8 118.2h2.0v2.0h-2.0zM478.8 124.1h2.0v2.0h-2.0zM478.8 129.9h2.0v2.0h-2.0zM478.8 135.8h2.0v2.0h-2.0zM478.8 141.7h2.0v2.0h-2.0zM478.8 147.5h2.0v2.0h-2.0zM478.8 153.4h2.0v2.0h-2.0zM478.8 159.2h2.0v2.0h-2.0zM478.8 165.1h2.0v2.0h-2.0zM478.8 171.0h2.0v2.0h-2.0zM478.8 182.7h2.0v2.0h-2.0zM478.8 188.5h2.0v2.0h-2.0zM478.8 194.4h2.0v2.0h-2.0zM478.8 212.0h2.0v2.0h-2.0zM478.8 247.1h2.0v2.0h-2.0zM486.2 36.2h2.0v2.0h-2.0zM486.2 42.0h2.0v2.0h-2.0zM486.2 47.9h2.0v2.0h-2.0zM486.2 65.5h2.0v2.0h-2.0zM486.2 83.0h2.0v2.0h-2.0zM486.2 88.9h2.0v2.0h-2.0zM486.2 94.8h2.0v2.0h-2.0zM486.2 100.6h2.0v2.0h-2.0zM486.2 106.5h2.0v2.0h-2.0zM486.2 112.3h2.0v2.0h-2.0zM486.2 118.2h2.0v2.0h-2.0zM486.2 124.1h2.0v2.0h-2.0zM486.2 129.9h2.0v2.0h-2.0zM486.2 135.8h2.0v2.0h-2.0zM486.2 141.7h2.0v2.0h-2.0zM486.2 147.5h2.0v2.0h-2.0zM486.2 153.4h2.0v2.0h-2.0zM486.2 159.2h2.0v2.0h-2.0zM486.2 165.1h2.0v2.0h-2.0zM486.2 171.0h2.0v2.0h-2.0zM486.2 176.8h2.0v2.0h-2.0zM486.2 182.7h2.0v2.0h-2.0zM486.2 188.5h2.0v2.0h-2.0zM486.2 200.3h2.0v2.0h-2.0zM486.2 229.6h2.0v2.0h-2.0zM486.2 241.3h2.0v2.0h-2.0zM493.6 47.9h2.0v2.0h-2.0zM493.6 59.6h2.0v2.0h-2.0zM493.6 65.5h2.0v2.0h-2.0zM493.6 71.3h2.0v2.0h-2.0zM493.6 77.2h2.0v2.0h-2.0zM493.6 83.0h2.0v2.0h-2.0zM493.6 88.9h2.0v2.0h-2.0zM493.6 94.8h2.0v2.0h-2.0zM493.6 100.6h2.0v2.0h-2.0zM493.6 106.5h2.0v2.0h-2.0zM493.6 112.3h2.0v2.0h-2.0zM493.6 118.2h2.0v2.0h-2.0zM493.6 124.1h2.0v2.0h-2.0zM493.6 129.9h2.0v2.0h-2.0zM493.6 135.8h2.0v2.0h-2.0zM493.6 141.7h2.0v2.0h-2.0zM493.6 147.5h2.0v2.0h-2.0zM493.6 153.4h2.0v2.0h-2.0zM493.6 159.2h2.0v2.0h-2.0zM493.6 165.1h2.0v2.0h-2.0zM493.6 171.0h2.0v2.0h-2.0zM493.6 176.8h2.0v2.0h-2.0zM493.6 182.7h2.0v2.0h-2.0zM493.6 188.5h2.0v2.0h-2.0zM493.6 194.4h2.0v2.0h-2.0zM493.6 229.6h2.0v2.0h-2.0zM501.1 42.0h2.0v2.0h-2.0zM501.1 53.8h2.0v2.0h-2.0zM501.1 59.6h2.0v2.0h-2.0zM501.1 83.0h2.0v2.0h-2.0zM501.1 94.8h2.0v2.0h-2.0zM501.1 100.6h2.0v2.0h-2.0zM501.1 106.5h2.0v2.0h-2.0zM501.1 112.3h2.0v2.0h-2.0zM501.1 118.2h2.0v2.0h-2.0zM501.1 124.1h2.0v2.0h-2.0zM501.1 129.9h2.0v2.0h-2.0zM501.1 135.8h2.0v2.0h-2.0zM501.1 141.7h2.0v2.0h-2.0zM501.1 147.5h2.0v2.0h-2.0zM501.1 153.4h2.0v2.0h-2.0zM501.1 159.2h2.0v2.0h-2.0zM501.1 171.0h2.0v2.0h-2.0zM501.1 176.8h2.0v2.0h-2.0zM501.1 182.7h2.0v2.0h-2.0zM501.1 188.5h2.0v2.0h-2.0zM501.1 194.4h2.0v2.0h-2.0zM501.1 235.4h2.0v2.0h-2.0zM501.1 241.3h2.0v2.0h-2.0zM501.1 247.1h2.0v2.0h-2.0zM508.5 18.6h2.0v2.0h-2.0zM508.5 83.0h2.0v2.0h-2.0zM508.5 88.9h2.0v2.0h-2.0zM508.5 94.8h2.0v2.0h-2.0zM508.5 100.6h2.0v2.0h-2.0zM508.5 106.5h2.0v2.0h-2.0zM508.5 112.3h2.0v2.0h-2.0zM508.5 118.2h2.0v2.0h-2.0zM508.5 124.1h2.0v2.0h-2.0zM508.5 129.9h2.0v2.0h-2.0zM508.5 135.8h2.0v2.0h-2.0zM508.5 141.7h2.0v2.0h-2.0zM508.5 147.5h2.0v2.0h-2.0zM508.5 153.4h2.0v2.0h-2.0zM508.5 165.1h2.0v2.0h-2.0zM508.5 171.0h2.0v2.0h-2.0zM508.5 182.7h2.0v2.0h-2.0zM508.5 188.5h2.0v2.0h-2.0zM508.5 194.4h2.0v2.0h-2.0zM508.5 206.1h2.0v2.0h-2.0zM508.5 212.0h2.0v2.0h-2.0zM508.5 241.3h2.0v2.0h-2.0z" fill="#3a3a3a" clip-path="url(#pc)"/>
<g clip-path="url(#pc)" fill="none" stroke="#000" stroke-width="2.6">
<path d="M62.00 126.50 L63.00 126.50 L64.00 126.50 L65.00 126.50 L66.00 126.50 L67.01 126.50 L68.01 126.49 L69.01 126.49 L70.01 126.49 L71.01 126.49 L72.01 126.49 L73.01 126.49 L74.01 126.49 L75.01 126.49 L76.02 126.49 L77.02 126.49 L78.02 126.49 L79.02 126.50 L80.02 126.50 L81.02 126.50 L82.02 126.51 L83.02 126.51 L84.02 126.52 L85.03 126.52 L86.03 126.53 L87.03 126.53 L88.03 126.54 L89.03 126.54 L90.03 126.55 L91.03 126.56 L92.03 126.57 L93.03 126.58 L94.04 126.59 L95.04 126.60 L96.04 126.62 L97.04 126.64 L98.04 126.66 L99.04 126.68 L100.04 126.70 L101.04 126.73 L102.04 126.76 L103.05 126.79 L104.05 126.82 L105.05 126.86 L106.05 126.90 L107.05 126.94 L108.05 126.98 L109.05 127.02 L110.05 127.06 L111.05 127.11 L112.06 127.15 L113.06 127.20 L114.06 127.24 L115.06 127.29 L116.06 127.33 L117.06 127.38 L118.06 127.42 L119.06 127.46 L120.06 127.50 L121.07 127.54 L122.07 127.58 L123.07 127.62 L124.07 127.66 L125.07 127.71 L126.07 127.75 L127.07 127.79 L128.07 127.83 L129.07 127.87 L130.08 127.91 L131.08 127.95 L132.08 127.99 L133.08 128.03 L134.08 128.07 L135.08 128.11 L136.08 128.15 L137.08 128.19 L138.08 128.23 L139.09 128.27 L140.09 128.30 L141.09 128.34 L142.09 128.38 L143.09 128.41 L144.09 128.45 L145.09 128.49 L146.09 128.52 L147.09 128.56 L148.10 128.60 L149.10 128.63 L150.10 128.67 L151.10 128.70 L152.10 128.74 L153.10 128.77 L154.10 128.80 L155.10 128.84 L156.10 128.87 L157.11 128.90 L158.11 128.94 L159.11 128.97 L160.11 129.00 L161.11 129.04 L162.11 129.07 L163.11 129.11 L164.11 129.14 L165.11 129.18 L166.12 129.21 L167.12 129.25 L168.12 129.28 L169.12 129.31 L170.12 129.35 L171.12 129.38 L172.12 129.41 L173.12 129.44 L174.12 129.47 L175.13 129.50 L176.13 129.52 L177.13 129.55 L178.13 129.57 L179.13 129.59 L180.13 129.60 L181.13 129.62 L182.13 129.63 L183.14 129.63 L184.14 129.64 L185.14 129.65 L186.14 129.65 L187.14 129.65 L188.14 129.65 L189.14 129.65 L190.14 129.64 L191.14 129.64 L192.15 129.64 L193.15 129.63 L194.15 129.63 L195.15 129.62 L196.15 129.62 L197.15 129.61 L198.15 129.61 L199.15 129.60 L200.15 129.60 L201.16 129.59 L202.16 129.59 L203.16 129.58 L204.16 129.57 L205.16 129.55 L206.16 129.54 L207.16 129.52 L208.16 129.51 L209.16 129.49 L210.17 129.48 L211.17 129.47 L212.17 129.46 L213.17 129.45 L214.17 129.45 L215.17 129.45 L216.17 129.45 L217.17 129.45 L218.17 129.47 L219.18 129.48 L220.18 129.50 L221.18 129.53 L222.18 129.55 L223.18 129.58 L224.18 129.61 L225.18 129.64 L226.18 129.68 L227.18 129.72 L228.19 129.76 L229.19 129.81 L230.19 129.87 L231.19 129.94 L232.19 130.02 L233.19 130.10 L234.19 130.20 L235.19 130.30 L236.19 130.41 L237.20 130.53 L238.20 130.65 L239.20 130.78 L240.20 130.91 L241.20 131.04 L242.20 131.18 L243.20 131.32 L244.20 131.45 L245.20 131.59 L246.21 131.73 L247.21 131.87 L248.21 132.01 L249.21 132.16 L250.21 132.31 L251.21 132.46 L252.21 132.61 L253.21 132.77 L254.21 132.92 L255.22 133.08 L256.22 133.23 L257.22 133.38 L258.22 133.54 L259.22 133.69 L260.22 133.83 L261.22 133.98 L262.22 134.13 L263.22 134.28 L264.23 134.43 L265.23 134.58 L266.23 134.73 L267.23 134.88 L268.23 135.03 L269.23 135.17 L270.23 135.31 L271.23 135.45 L272.23 135.58 L273.24 135.70 L274.24 135.82 L275.24 135.93 L276.24 136.04 L277.24 136.15 L278.24 136.26 L279.24 136.38 L280.24 136.49 L281.24 136.59 L282.25 136.69 L283.25 136.78 L284.25 136.86 L285.25 136.92 L286.25 136.97 L287.25 137.01 L288.25 137.02 L289.25 137.02 L290.25 136.99 L291.26 136.94 L292.26 136.86 L293.26 136.77 L294.26 136.65 L295.26 136.52 L296.26 136.38 L297.26 136.22 L298.26 136.05 L299.26 135.88 L300.27 135.71 L301.27 135.53 L302.27 135.36 L303.27 135.18 L304.27 135.02 L305.27 134.86 L306.27 134.70 L307.27 134.53 L308.27 134.36 L309.28 134.19 L310.28 134.01 L311.28 133.83 L312.28 133.65 L313.28 133.47 L314.28 133.29 L315.28 133.11 L316.28 132.93 L317.28 132.76 L318.29 132.59 L319.29 132.42 L320.29 132.25 L321.29 132.09 L322.29 131.93 L323.29 131.77 L324.29 131.61 L325.29 131.45 L326.29 131.29 L327.30 131.13 L328.30 130.98 L329.30 130.82 L330.30 130.67 L331.30 130.53 L332.30 130.38 L333.30 130.24 L334.30 130.10 L335.30 129.96 L336.31 129.82 L337.31 129.68 L338.31 129.55 L339.31 129.41 L340.31 129.28 L341.31 129.15 L342.31 129.02 L343.31 128.89 L344.31 128.77 L345.32 128.66 L346.32 128.55 L347.32 128.44 L348.32 128.35 L349.32 128.26 L350.32 128.17 L351.32 128.10 L352.32 128.04 L353.32 127.99 L354.33 127.94 L355.33 127.90 L356.33 127.86 L357.33 127.83 L358.33 127.81 L359.33 127.78 L360.33 127.76 L361.33 127.74 L362.33 127.72 L363.34 127.70 L364.34 127.68 L365.34 127.65 L366.34 127.62 L367.34 127.59 L368.34 127.55 L369.34 127.52 L370.34 127.48 L371.34 127.44 L372.35 127.41 L373.35 127.37 L374.35 127.33 L375.35 127.29 L376.35 127.26 L377.35 127.22 L378.35 127.19 L379.35 127.15 L380.35 127.12 L381.36 127.09 L382.36 127.06 L383.36 127.04 L384.36 127.01 L385.36 126.99 L386.36 126.97 L387.36 126.95 L388.36 126.94 L389.36 126.92 L390.37 126.91 L391.37 126.90 L392.37 126.89 L393.37 126.88 L394.37 126.87 L395.37 126.87 L396.37 126.86 L397.37 126.86 L398.38 126.86 L399.38 126.85 L400.38 126.85 L401.38 126.86 L402.38 126.86 L403.38 126.86 L404.38 126.86 L405.38 126.87 L406.38 126.87 L407.39 126.88 L408.39 126.89 L409.39 126.89 L410.39 126.90 L411.39 126.91 L412.39 126.92 L413.39 126.93 L414.39 126.94 L415.39 126.95 L416.40 126.96 L417.40 126.97 L418.40 126.98 L419.40 126.99 L420.40 127.00 L421.40 127.02 L422.40 127.03 L423.40 127.05 L424.40 127.07 L425.41 127.09 L426.41 127.11 L427.41 127.13 L428.41 127.15 L429.41 127.18 L430.41 127.21 L431.41 127.24 L432.41 127.27 L433.41 127.31 L434.42 127.34 L435.42 127.38 L436.42 127.42 L437.42 127.47 L438.42 127.52 L439.42 127.57 L440.42 127.62 L441.42 127.68 L442.42 127.74 L443.43 127.80 L444.43 127.87 L445.43 127.94 L446.43 128.01 L447.43 128.08 L448.43 128.15 L449.43 128.23 L450.43 128.31 L451.43 128.39 L452.44 128.47 L453.44 128.55 L454.44 128.63 L455.44 128.71 L456.44 128.80 L457.44 128.88 L458.44 128.97 L459.44 129.05 L460.44 129.14 L461.45 129.22 L462.45 129.31 L463.45 129.39 L464.45 129.48 L465.45 129.57 L466.45 129.66 L467.45 129.75 L468.45 129.85 L469.45 129.94 L470.46 130.05 L471.46 130.15 L472.46 130.26 L473.46 130.38 L474.46 130.50 L475.46 130.62 L476.46 130.74 L477.46 130.87 L478.46 131.00 L479.47 131.12 L480.47 131.25 L481.47 131.38 L482.47 131.51 L483.47 131.63 L484.47 131.76 L485.47 131.88 L486.47 132.00 L487.47 132.11 L488.48 132.23 L489.48 132.34 L490.48 132.46 L491.48 132.57 L492.48 132.68 L493.48 132.79 L494.48 132.90 L495.48 133.02 L496.48 133.13 L497.49 133.23 L498.49 133.34 L499.49 133.45 L500.49 133.56 L501.49 133.67 L502.49 133.78 L503.49 133.89 L504.49 134.00 L505.49 134.11 L506.50 134.22 L507.50 134.32 L508.50 134.43 L509.50 134.54 L510.50 134.66" stroke-width="2.4"/>
<path d="M63.90 126.55 L64.63 126.53 L65.36 126.51 L66.09 126.49 L66.81 126.47 L67.54 126.45 L68.27 126.43 L69.00 126.41 L69.73 126.39 L70.46 126.37 L71.19 126.35 L71.91 126.32 L72.64 126.30 L73.37 126.27 L74.10 126.24 L74.83 126.21 L75.56 126.17 L76.29 126.13 L77.01 126.09 L77.74 126.04 L78.47 125.99 L79.20 125.93M87.60 125.31 L88.35 125.27 L89.09 125.24 L89.84 125.21 L90.58 125.18 L91.33 125.16 L92.08 125.13 L92.82 125.11 L93.57 125.10 L94.32 125.08 L95.06 125.06 L95.81 125.05 L96.55 125.04 L97.30 125.03M105.50 125.16 L106.25 125.20 L106.99 125.24 L107.74 125.28 L108.48 125.33 L109.23 125.39 L109.98 125.45 L110.72 125.52 L111.47 125.60 L112.22 125.67 L112.96 125.75 L113.71 125.84 L114.45 125.92 L115.20 126.00M123.40 126.86 L124.15 126.94 L124.89 127.02 L125.64 127.10 L126.38 127.17 L127.13 127.25 L127.88 127.33 L128.62 127.41 L129.37 127.49 L130.12 127.57 L130.86 127.64 L131.61 127.72 L132.35 127.80 L133.10 127.87M141.30 128.60 L142.05 128.66 L142.79 128.72 L143.54 128.78 L144.28 128.83 L145.03 128.89 L145.78 128.94 L146.52 128.99 L147.27 129.04 L148.02 129.09 L148.76 129.14 L149.51 129.19 L150.25 129.24 L151.00 129.29M159.20 129.76 L159.95 129.80 L160.69 129.84 L161.44 129.87 L162.18 129.91 L162.93 129.94 L163.68 129.97 L164.42 130.00 L165.17 130.03 L165.92 130.05 L166.66 130.08 L167.41 130.11 L168.15 130.13 L168.90 130.16M177.10 130.45 L177.85 130.49 L178.59 130.53 L179.34 130.56 L180.08 130.60 L180.83 130.65 L181.58 130.69 L182.32 130.73 L183.07 130.77 L183.82 130.81 L184.56 130.85 L185.31 130.90 L186.05 130.94 L186.80 130.99M195.00 131.56 L195.71 131.62 L196.42 131.69 L197.12 131.75 L197.83 131.82 L198.54 131.89 L199.25 131.96 L199.95 132.04 L200.66 132.12 L201.37 132.20 L202.08 132.29 L202.78 132.38 L203.49 132.47 L204.20 132.57M213.40 133.93 L214.11 134.04 L214.82 134.14 L215.52 134.25 L216.23 134.35 L216.94 134.45 L217.65 134.55 L218.35 134.65 L219.06 134.74 L219.77 134.83 L220.48 134.91 L221.18 134.99 L221.89 135.07 L222.60 135.15M231.20 136.15 L231.91 136.26 L232.62 136.38 L233.32 136.50 L234.03 136.63 L234.74 136.77 L235.45 136.92 L236.15 137.08 L236.86 137.25 L237.57 137.42 L238.28 137.59 L238.98 137.77 L239.69 137.96 L240.40 138.15M248.10 140.56 L248.81 140.81 L249.52 141.07 L250.22 141.33 L250.93 141.60 L251.64 141.88 L252.35 142.16 L253.05 142.44 L253.76 142.74 L254.47 143.04 L255.18 143.36 L255.88 143.68 L256.59 144.00 L257.30 144.34M264.40 147.91 L265.15 148.29 L265.89 148.68 L266.64 149.06 L267.38 149.44 L268.13 149.81 L268.87 150.19 L269.62 150.56 L270.36 150.93 L271.11 151.30 L271.85 151.67 L272.60 152.04M279.00 155.27 L279.74 155.66 L280.47 156.04 L281.21 156.43 L281.95 156.83 L282.68 157.23 L283.42 157.63 L284.15 158.05 L284.89 158.47 L285.63 158.91 L286.36 159.35 L287.10 159.80M293.60 163.78 L294.35 164.21 L295.09 164.63 L295.84 165.04 L296.58 165.44 L297.33 165.82 L298.07 166.18 L298.82 166.53 L299.56 166.87 L300.31 167.20 L301.05 167.53 L301.80 167.84M309.10 170.55 L309.84 170.80 L310.58 171.05 L311.32 171.29 L312.07 171.53 L312.81 171.78 L313.55 172.02 L314.29 172.25 L315.03 172.48 L315.77 172.70 L316.52 172.92 L317.26 173.13 L318.00 173.33M326.90 175.51 L327.62 175.68 L328.35 175.85 L329.07 176.02 L329.80 176.20 L330.52 176.37 L331.25 176.55 L331.98 176.74 L332.70 176.92 L333.43 177.11 L334.15 177.30 L334.88 177.50 L335.60 177.69M344.20 180.03 L344.90 180.21 L345.60 180.40 L346.30 180.58 L347.00 180.76 L347.70 180.95 L348.40 181.12 L349.10 181.30 L349.80 181.47 L350.50 181.65 L351.20 181.82 L351.90 181.99 L352.60 182.16 L353.30 182.33 L354.00 182.50 L354.70 182.67M361.20 184.17 L361.91 184.33 L362.61 184.49 L363.32 184.64 L364.03 184.79 L364.74 184.94 L365.44 185.09 L366.15 185.23 L366.86 185.37 L367.56 185.52 L368.27 185.66 L368.98 185.80 L369.69 185.94 L370.39 186.08 L371.10 186.22M378.50 187.56 L379.21 187.67 L379.91 187.79 L380.62 187.89 L381.33 188.00 L382.04 188.10 L382.74 188.20 L383.45 188.29 L384.16 188.38 L384.86 188.47 L385.57 188.56 L386.28 188.64 L386.99 188.72 L387.69 188.80 L388.40 188.88M396.70 189.56 L397.41 189.60 L398.11 189.64 L398.82 189.68 L399.53 189.71 L400.24 189.75 L400.94 189.78 L401.65 189.80 L402.36 189.83 L403.06 189.85 L403.77 189.86 L404.48 189.88 L405.19 189.89 L405.89 189.90 L406.60 189.90M415.40 189.78 L416.12 189.75 L416.85 189.73 L417.57 189.70 L418.29 189.67 L419.02 189.64 L419.74 189.61 L420.46 189.58 L421.18 189.55 L421.91 189.51 L422.63 189.48 L423.35 189.44 L424.08 189.40 L424.80 189.36M433.60 188.72 L434.32 188.65 L435.03 188.57 L435.75 188.49 L436.46 188.41 L437.18 188.33 L437.89 188.24 L438.61 188.15 L439.32 188.04 L440.04 187.93 L440.75 187.81 L441.47 187.69 L442.18 187.56 L442.90 187.42M450.80 185.81 L451.54 185.67 L452.27 185.54 L453.01 185.41 L453.74 185.30 L454.48 185.19 L455.21 185.09 L455.95 185.01 L456.69 184.93 L457.42 184.86 L458.16 184.79 L458.89 184.74 L459.63 184.68 L460.36 184.64 L461.10 184.60M469.00 184.37 L469.74 184.36 L470.47 184.35 L471.21 184.34 L471.94 184.33 L472.68 184.32 L473.41 184.31 L474.15 184.30 L474.89 184.28 L475.62 184.27 L476.36 184.26 L477.09 184.26 L477.83 184.25 L478.56 184.25 L479.30 184.25M487.20 184.28 L487.94 184.28 L488.67 184.29 L489.41 184.29 L490.14 184.30 L490.88 184.30 L491.61 184.30 L492.35 184.30 L493.09 184.30 L493.82 184.30 L494.56 184.30 L495.29 184.30 L496.03 184.30 L496.76 184.30 L497.50 184.30" stroke-width="2.5"/>
</g>
<rect x="64.8" y="263.5" width="145.9" height="38" fill="#fff" stroke="#585858" stroke-width="1.1"/>
<path d="M69.1 274H108.1" stroke="#000" stroke-width="2.1"/>
<ellipse cx="73.2" cy="274" rx="2.5" ry="2.4"/>
<ellipse cx="88.2" cy="274" rx="2.5" ry="2.4"/>
<ellipse cx="103.9" cy="274" rx="2.5" ry="2.4"/>
<path d="M69.4 288H79.2M84.8 288H94.7M100 288H108.1" stroke="#000" stroke-width="2.1"/>
<ellipse cx="73.7" cy="288" rx="1.9" ry="2.1"/>
<ellipse cx="88.7" cy="288" rx="1.9" ry="2.1"/>
<ellipse cx="103.5" cy="288" rx="1.9" ry="2.1"/>
<text class="l" x="112.4" y="280.2" xml:space="preserve">Peak  Grade  2</text>
<text class="l" x="112.4" y="293.4" xml:space="preserve">Peak  Grade  3/4</text>
<rect x="62.5" y="3.1" width="450.2" height="302.7" fill="none" stroke="#000" stroke-width="2.3"/>
<path d="M64.4 306.8V310.8M138.6 306.8V310.8M212.9 306.8V310.8M287.1 306.8V310.8M361.3 306.8V310.8M435.5 306.8V310.8M509.8 306.8V310.8M59.4 7.8H61.5M59.4 66.4H61.5M59.4 125.0H61.5M59.4 183.6H61.5M59.4 242.2H61.5M59.4 300.8H61.5" stroke="#000" stroke-width="1"/>
<rect x="50.8" y="325.9" width="11.0" height="1.7"/>
<text class="t" x="63.3" y="331.6">30</text>
<rect x="124.2" y="325.9" width="11.0" height="1.7"/>
<text class="t" x="138.2" y="331.6">20</text>
<rect x="199.6" y="325.9" width="11.0" height="1.7"/>
<path d="M219.00 331.60 L219.00 320.20 L217.40 320.20 L213.90 322.80 L213.90 324.50 L217.10 323.30 L217.10 331.60Z"/>
<text class="t" x="219.3" y="331.6">0</text>
<text class="t" x="282.1" y="331.6">0</text>
<path d="M360.10 331.60 L360.10 320.20 L358.50 320.20 L355.00 322.80 L355.00 324.50 L358.20 323.30 L358.20 331.60Z"/>
<text class="t" x="360.4" y="331.6">0</text>
<text class="t" x="427.0" y="331.6">20</text>
<text class="t" x="500.1" y="331.6">30</text>
<text class="t" x="55.8" y="13.8" text-anchor="end">2</text>
<path d="M56.10 72.57 L56.10 61.07 L54.50 61.07 L51.00 63.67 L51.00 65.37 L54.20 64.17 L54.20 72.57Z"/>
<text class="t" x="56.4" y="130.7" text-anchor="end">0</text>
<path d="M56.10 189.77 L56.10 178.27 L54.50 178.27 L51.00 180.87 L51.00 182.57 L54.20 181.37 L54.20 189.77Z"/>
<rect x="35.4" y="184.5" width="12.2" height="1.8"/>
<text class="t" x="56.4" y="247.9" text-anchor="end">2</text>
<rect x="32.8" y="243.1" width="12.2" height="1.8"/>
<text class="t" x="56.4" y="306.5" text-anchor="end">3</text>
<rect x="32.8" y="301.7" width="12.2" height="1.8"/>
<text class="b" x="183.2" y="361.9">Days</text>
<text class="b" x="234.5" y="361.9">from</text>
<text class="b" x="281.6" y="361.9">GVHD</text>
<text class="b" x="341.8" y="361.9">Onset</text>
<g transform="translate(14.6,0) rotate(-90)">
<text class="by" x="-251.2" y="0">Change</text>
<text class="by" x="-178.5" y="0">from</text>
<text class="by" x="-129.4" y="0">Baseline</text>
</g>
</svg></body></html>
